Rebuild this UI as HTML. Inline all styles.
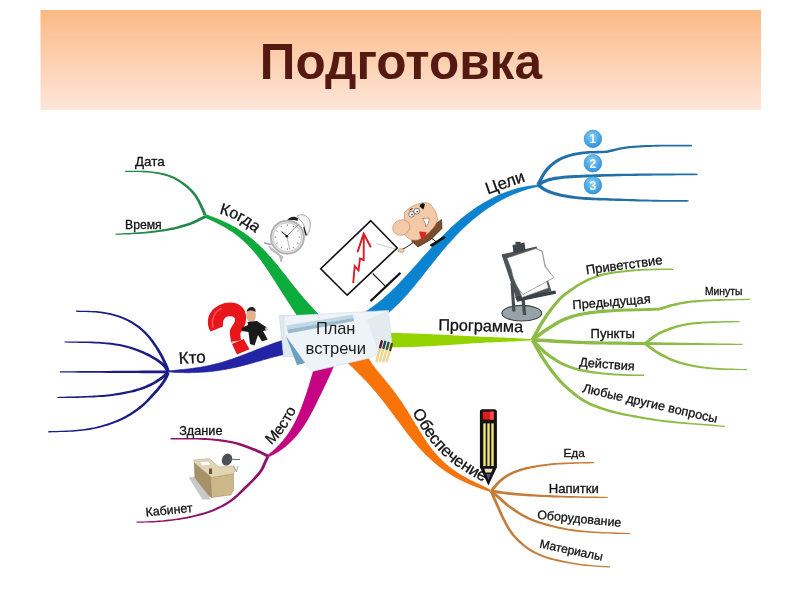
<!DOCTYPE html>
<html><head><meta charset="utf-8"><style>
html,body{margin:0;padding:0;background:#fff;width:800px;height:600px;overflow:hidden}
svg{display:block;will-change:transform}
text{font-family:"Liberation Sans",sans-serif}
.l{stroke:#111;stroke-width:0.3}
</style></head><body>
<svg width="800" height="600" viewBox="0 0 800 600">
<rect width="800" height="600" fill="#fff"/>
<defs>
<linearGradient id="hdr" x1="0" y1="0" x2="0" y2="1">
 <stop offset="0" stop-color="#fbb983"/><stop offset="0.3" stop-color="#fcc79f"/><stop offset="0.7" stop-color="#fdd9c0"/><stop offset="1" stop-color="#fde6da"/>
</linearGradient>
<radialGradient id="num" cx="0.45" cy="0.35" r="0.7">
 <stop offset="0" stop-color="#8fd0f5"/><stop offset="0.6" stop-color="#4aa8e6"/><stop offset="1" stop-color="#2f8fd6"/>
</radialGradient>
<linearGradient id="paper" x1="0" y1="0" x2="1" y2="1">
 <stop offset="0" stop-color="#eef4f8"/><stop offset="1" stop-color="#dbe7ef"/>
</linearGradient>
<radialGradient id="qm" cx="0.4" cy="0.35" r="0.7">
 <stop offset="0" stop-color="#ff4a3a"/><stop offset="1" stop-color="#d40f0f"/>
</radialGradient>
</defs>
<rect x="40.5" y="10" width="720.5" height="100" fill="url(#hdr)"/>
<text x="259.8" y="78.6" font-weight="bold" font-size="49.5" fill="#541a12">Подготовка</text>
<path d="M205.5,214.5 L208.0,215.4 L210.6,216.4 L213.2,217.4 L215.8,218.4 L218.3,219.4 L220.9,220.5 L223.5,221.7 L226.0,222.9 L228.6,224.1 L231.1,225.4 L233.5,226.7 L236.0,228.1 L238.4,229.6 L240.7,231.1 L243.1,232.6 L245.4,234.2 L247.6,235.8 L249.8,237.5 L252.0,239.3 L254.1,241.0 L256.2,242.9 L258.3,244.7 L260.3,246.6 L262.3,248.6 L264.2,250.5 L266.1,252.6 L268.0,254.6 L269.8,256.7 L271.7,258.7 L273.5,260.9 L275.3,263.0 L277.0,265.1 L278.8,267.3 L280.5,269.5 L282.2,271.7 L284.0,273.8 L285.7,276.0 L287.4,278.2 L289.1,280.4 L290.8,282.6 L292.5,284.8 L294.3,287.0 L296.0,289.1 L297.8,291.3 L299.5,293.4 L301.3,295.6 L303.1,297.7 L304.9,299.8 L306.8,301.9 L308.6,303.9 L310.5,306.0 L312.4,308.0 L314.3,310.1 L316.2,312.1 L318.2,314.1 L320.1,316.1 L322.1,318.0 L324.0,320.0 L326.0,322.0 L301.0,322.0 L299.8,319.9 L298.5,317.8 L297.2,315.7 L296.0,313.6 L294.6,311.6 L293.3,309.5 L292.0,307.4 L290.7,305.4 L289.3,303.3 L288.0,301.3 L286.7,299.2 L285.3,297.1 L284.0,295.1 L282.7,293.0 L281.4,290.9 L280.0,288.9 L278.7,286.8 L277.4,284.7 L276.1,282.6 L274.8,280.6 L273.4,278.5 L272.1,276.4 L270.8,274.4 L269.4,272.3 L268.1,270.3 L266.7,268.2 L265.3,266.2 L263.9,264.2 L262.5,262.2 L261.1,260.3 L259.6,258.3 L258.1,256.4 L256.6,254.5 L255.0,252.6 L253.4,250.7 L251.8,248.9 L250.2,247.1 L248.5,245.4 L246.7,243.6 L245.0,241.9 L243.2,240.3 L241.3,238.7 L239.4,237.1 L237.5,235.6 L235.6,234.1 L233.6,232.6 L231.5,231.2 L229.4,229.9 L227.3,228.6 L225.2,227.3 L223.1,226.0 L220.9,224.9 L218.7,223.7 L216.5,222.6 L214.3,221.5 L212.1,220.5 L209.9,219.4 L207.7,218.5 L205.5,217.5Z" fill="#0aad3c" stroke="#0b8f32" stroke-width="0.7"/>
<path d="M168.8,371.0 L170.9,370.7 L173.0,370.5 L175.1,370.3 L177.2,370.0 L179.4,369.8 L181.5,369.6 L183.6,369.4 L185.8,369.2 L187.9,368.9 L190.0,368.7 L192.2,368.4 L194.3,368.1 L196.4,367.8 L198.5,367.5 L200.6,367.2 L202.7,366.8 L204.8,366.4 L206.9,366.0 L209.0,365.5 L211.1,365.1 L213.2,364.6 L215.3,364.1 L217.3,363.5 L219.4,363.0 L221.5,362.4 L223.5,361.8 L225.6,361.2 L227.6,360.5 L229.6,359.8 L231.7,359.2 L233.7,358.5 L235.7,357.7 L237.7,357.0 L239.7,356.3 L241.7,355.5 L243.7,354.8 L245.7,354.0 L247.7,353.2 L249.7,352.4 L251.7,351.7 L253.7,350.9 L255.7,350.1 L257.7,349.3 L259.7,348.6 L261.7,347.8 L263.7,347.0 L265.7,346.3 L267.7,345.5 L269.7,344.8 L271.7,344.1 L273.7,343.3 L275.7,342.6 L277.8,341.9 L279.8,341.2 L281.8,340.6 L283.9,339.9 L285.9,339.3 L287.9,338.6 L290.0,338.0 L290.0,353.5 L287.9,353.8 L285.9,354.2 L283.8,354.6 L281.8,355.0 L279.7,355.5 L277.7,356.0 L275.7,356.5 L273.6,357.0 L271.6,357.6 L269.6,358.1 L267.6,358.7 L265.6,359.2 L263.5,359.8 L261.5,360.4 L259.5,361.0 L257.5,361.6 L255.5,362.1 L253.5,362.7 L251.5,363.3 L249.4,363.8 L247.4,364.4 L245.4,364.9 L243.4,365.4 L241.4,366.0 L239.3,366.5 L237.3,366.9 L235.3,367.4 L233.2,367.8 L231.2,368.3 L229.1,368.7 L227.1,369.1 L225.0,369.5 L223.0,369.8 L220.9,370.1 L218.8,370.5 L216.8,370.8 L214.7,371.0 L212.6,371.3 L210.6,371.5 L208.5,371.7 L206.4,371.9 L204.3,372.1 L202.2,372.2 L200.1,372.3 L198.0,372.4 L195.9,372.5 L193.8,372.6 L191.7,372.6 L189.6,372.7 L187.5,372.7 L185.4,372.7 L183.3,372.6 L181.2,372.6 L179.2,372.5 L177.1,372.5 L175.0,372.4 L172.9,372.3 L170.8,372.1 L168.8,372.0Z" fill="#2323a6" stroke="#1c1c8a" stroke-width="0.6"/>
<path d="M315.0,365.0 L314.6,366.7 L314.1,368.4 L313.7,370.1 L313.2,371.8 L312.7,373.5 L312.2,375.2 L311.7,376.9 L311.2,378.5 L310.7,380.2 L310.2,381.9 L309.7,383.6 L309.2,385.2 L308.7,386.9 L308.1,388.6 L307.6,390.3 L307.1,391.9 L306.5,393.6 L306.0,395.3 L305.4,396.9 L304.8,398.6 L304.2,400.3 L303.6,401.9 L303.0,403.6 L302.4,405.2 L301.8,406.9 L301.2,408.5 L300.5,410.1 L299.9,411.8 L299.2,413.4 L298.5,415.0 L297.8,416.6 L297.0,418.2 L296.3,419.8 L295.5,421.3 L294.7,422.9 L293.9,424.5 L293.0,426.0 L292.2,427.5 L291.3,429.0 L290.4,430.5 L289.4,432.0 L288.5,433.5 L287.5,434.9 L286.5,436.3 L285.4,437.7 L284.3,439.1 L283.2,440.5 L282.1,441.8 L280.9,443.1 L279.8,444.4 L278.5,445.7 L277.3,447.0 L276.0,448.2 L274.8,449.4 L273.4,450.6 L272.1,451.7 L270.8,452.8 L269.4,453.9 L268.0,455.0 L268.0,457.0 L269.8,456.2 L271.6,455.3 L273.4,454.4 L275.1,453.5 L276.9,452.4 L278.6,451.4 L280.3,450.2 L282.0,449.1 L283.6,447.9 L285.2,446.6 L286.8,445.3 L288.3,444.0 L289.8,442.6 L291.3,441.2 L292.7,439.7 L294.1,438.2 L295.5,436.7 L296.8,435.2 L298.1,433.6 L299.3,432.0 L300.5,430.4 L301.7,428.8 L302.9,427.1 L304.0,425.4 L305.1,423.7 L306.1,422.0 L307.2,420.3 L308.2,418.5 L309.2,416.8 L310.1,415.0 L311.1,413.2 L312.0,411.5 L313.0,409.7 L313.9,407.9 L314.8,406.1 L315.7,404.3 L316.6,402.5 L317.5,400.6 L318.3,398.8 L319.2,397.0 L320.1,395.2 L321.0,393.4 L321.9,391.5 L322.8,389.7 L323.6,387.9 L324.5,386.1 L325.4,384.2 L326.3,382.4 L327.1,380.6 L328.0,378.7 L328.9,376.9 L329.7,375.1 L330.5,373.2 L331.4,371.4 L332.1,369.5 L332.9,367.7 L333.6,365.8 L334.3,363.9 L335.0,362.0Z" fill="#c50383" stroke="#a3036c" stroke-width="0.6"/>
<path d="M362.0,314.0 L365.3,312.0 L368.4,309.9 L371.6,307.8 L374.6,305.5 L377.6,303.2 L380.5,300.9 L383.4,298.4 L386.3,295.9 L389.1,293.4 L391.8,290.8 L394.5,288.2 L397.2,285.5 L399.8,282.8 L402.4,280.1 L405.0,277.3 L407.6,274.5 L410.1,271.7 L412.6,268.9 L415.2,266.1 L417.7,263.3 L420.2,260.4 L422.7,257.6 L425.2,254.8 L427.8,252.0 L430.3,249.2 L432.8,246.4 L435.4,243.6 L438.0,240.8 L440.6,238.1 L443.3,235.4 L445.9,232.8 L448.7,230.1 L451.4,227.5 L454.2,225.0 L457.0,222.5 L459.9,220.0 L462.8,217.6 L465.7,215.3 L468.7,213.0 L471.8,210.8 L474.9,208.6 L478.0,206.5 L481.2,204.5 L484.5,202.5 L487.8,200.7 L491.1,198.9 L494.5,197.2 L497.9,195.6 L501.4,194.1 L504.9,192.7 L508.5,191.4 L512.1,190.2 L515.7,189.1 L519.4,188.1 L523.1,187.3 L526.8,186.6 L530.5,186.0 L534.3,185.5 L538.0,185.2 L538.0,186.4 L534.4,187.2 L530.9,188.1 L527.4,189.1 L523.9,190.2 L520.4,191.4 L517.0,192.7 L513.6,194.1 L510.2,195.6 L506.9,197.1 L503.6,198.8 L500.3,200.5 L497.1,202.3 L494.0,204.2 L490.8,206.2 L487.8,208.2 L484.8,210.3 L481.8,212.4 L478.9,214.7 L476.0,216.9 L473.2,219.3 L470.4,221.6 L467.7,224.1 L465.0,226.6 L462.3,229.1 L459.7,231.6 L457.2,234.3 L454.6,236.9 L452.2,239.6 L449.7,242.3 L447.3,245.0 L444.9,247.8 L442.5,250.6 L440.2,253.4 L437.9,256.3 L435.6,259.1 L433.3,262.0 L431.0,264.9 L428.7,267.7 L426.4,270.6 L424.2,273.5 L421.9,276.4 L419.6,279.3 L417.3,282.1 L415.0,285.0 L412.7,287.8 L410.3,290.6 L407.9,293.4 L405.5,296.1 L403.0,298.8 L400.5,301.4 L397.9,304.0 L395.3,306.5 L392.6,309.0 L389.9,311.4 L387.1,313.7 L384.2,315.9 L381.2,318.1 L378.1,320.1 L375.0,322.0Z" fill="#0a84d0" stroke="#0a6fb0" stroke-width="0.6"/>
<path d="M380.0,332.8 L382.6,332.8 L385.2,332.9 L387.8,332.9 L390.4,332.9 L392.9,333.0 L395.5,333.0 L398.1,333.1 L400.7,333.1 L403.3,333.2 L405.9,333.3 L408.5,333.3 L411.1,333.4 L413.6,333.5 L416.2,333.6 L418.8,333.7 L421.4,333.8 L424.0,333.9 L426.6,334.0 L429.2,334.1 L431.8,334.2 L434.3,334.4 L436.9,334.5 L439.5,334.6 L442.1,334.8 L444.7,334.9 L447.3,335.0 L449.9,335.1 L452.4,335.3 L455.0,335.4 L457.6,335.5 L460.2,335.7 L462.8,335.8 L465.4,335.9 L468.0,336.1 L470.5,336.2 L473.1,336.3 L475.7,336.4 L478.3,336.5 L480.9,336.7 L483.5,336.8 L486.1,336.9 L488.7,337.0 L491.2,337.1 L493.8,337.2 L496.4,337.3 L499.0,337.4 L501.6,337.5 L504.2,337.6 L506.8,337.8 L509.4,337.9 L511.9,338.0 L514.5,338.1 L517.1,338.2 L519.7,338.4 L522.3,338.5 L524.9,338.7 L527.4,338.9 L530.0,339.1 L532.6,339.3 L532.6,340.3 L530.0,340.5 L527.4,340.7 L524.9,340.8 L522.3,341.0 L519.7,341.1 L517.1,341.3 L514.5,341.4 L511.9,341.5 L509.3,341.6 L506.7,341.7 L504.2,341.8 L501.6,341.9 L499.0,342.0 L496.4,342.1 L493.8,342.2 L491.2,342.4 L488.6,342.5 L486.0,342.6 L483.5,342.8 L480.9,342.9 L478.3,343.0 L475.7,343.2 L473.1,343.3 L470.5,343.5 L467.9,343.7 L465.4,343.8 L462.8,344.0 L460.2,344.2 L457.6,344.4 L455.0,344.5 L452.4,344.7 L449.9,344.9 L447.3,345.1 L444.7,345.2 L442.1,345.4 L439.5,345.6 L436.9,345.7 L434.4,345.9 L431.8,346.0 L429.2,346.2 L426.6,346.3 L424.0,346.4 L421.4,346.6 L418.8,346.7 L416.2,346.8 L413.7,346.9 L411.1,347.0 L408.5,347.0 L405.9,347.1 L403.3,347.2 L400.7,347.2 L398.1,347.3 L395.5,347.3 L392.9,347.3 L390.4,347.4 L387.8,347.4 L385.2,347.4 L382.6,347.5 L380.0,347.5Z" fill="#94d200"/>
<path d="M345.0,360.0 L347.4,362.4 L349.9,364.7 L352.3,367.1 L354.7,369.4 L357.1,371.8 L359.5,374.2 L361.9,376.6 L364.3,379.1 L366.6,381.5 L368.9,384.0 L371.1,386.5 L373.4,389.1 L375.6,391.6 L377.8,394.2 L379.9,396.8 L382.0,399.5 L384.1,402.1 L386.2,404.8 L388.2,407.5 L390.3,410.2 L392.3,412.9 L394.3,415.6 L396.3,418.4 L398.4,421.1 L400.4,423.8 L402.4,426.6 L404.4,429.3 L406.5,432.0 L408.5,434.7 L410.6,437.3 L412.7,440.0 L414.9,442.6 L417.1,445.1 L419.3,447.7 L421.6,450.2 L423.9,452.6 L426.2,455.0 L428.7,457.3 L431.1,459.6 L433.7,461.9 L436.2,464.0 L438.9,466.2 L441.6,468.2 L444.3,470.2 L447.1,472.1 L450.0,473.9 L452.9,475.7 L455.9,477.4 L458.9,479.0 L462.0,480.5 L465.0,482.0 L468.2,483.4 L471.3,484.7 L474.5,486.0 L477.7,487.2 L480.8,488.4 L484.0,489.5 L487.1,490.5 L490.2,491.5 L490.2,490.0 L487.5,488.6 L484.8,487.2 L481.9,485.8 L479.0,484.4 L476.1,483.1 L473.2,481.6 L470.3,480.2 L467.4,478.7 L464.5,477.1 L461.7,475.5 L459.0,473.8 L456.3,472.1 L453.6,470.3 L451.1,468.4 L448.6,466.4 L446.1,464.4 L443.8,462.3 L441.5,460.1 L439.3,457.9 L437.1,455.6 L435.1,453.2 L433.0,450.8 L431.1,448.3 L429.2,445.8 L427.3,443.2 L425.5,440.6 L423.8,438.0 L422.1,435.3 L420.4,432.6 L418.7,429.9 L417.0,427.1 L415.3,424.4 L413.7,421.6 L412.0,418.9 L410.4,416.1 L408.7,413.4 L407.0,410.6 L405.3,407.9 L403.5,405.2 L401.8,402.6 L400.0,399.9 L398.1,397.3 L396.3,394.7 L394.4,392.2 L392.5,389.7 L390.5,387.1 L388.5,384.7 L386.5,382.2 L384.5,379.7 L382.5,377.3 L380.4,374.8 L378.4,372.4 L376.5,369.9 L374.5,367.4 L372.6,364.9 L370.8,362.3 L369.1,359.6 L367.5,356.9 L366.0,354.0Z" fill="#f87408" stroke="#e06a06" stroke-width="0.6"/>
<path d="M206.4,214.4 L206.2,213.9 L205.9,213.3 L205.6,212.5 L205.3,211.7 L204.9,210.8 L204.5,209.8 L204.0,208.8 L203.5,207.7 L203.0,206.7 L202.5,205.6 L202.0,204.6 L201.5,203.5 L200.9,202.4 L200.3,201.3 L199.7,200.1 L199.1,198.9 L198.4,197.7 L197.6,196.5 L196.9,195.3 L196.0,194.2 L195.2,193.1 L194.3,192.1 L193.4,191.0 L192.4,190.0 L191.4,189.0 L190.4,188.0 L189.3,187.0 L188.2,186.0 L187.0,185.0 L185.7,184.1 L184.4,183.1 L183.1,182.2 L181.7,181.2 L180.2,180.3 L178.7,179.3 L177.1,178.4 L175.5,177.6 L173.8,176.7 L172.1,176.0 L170.4,175.3 L168.5,174.7 L166.7,174.1 L164.8,173.6 L162.8,173.1 L160.8,172.7 L158.8,172.3 L156.7,172.0 L154.5,171.7 L152.3,171.4 L150.1,171.2 L147.7,171.0 L145.0,170.8 L142.1,170.7 L139.2,170.7 L136.3,170.7 L133.4,170.7 L130.8,170.7 L128.5,170.7 L126.5,170.7 L125.0,170.7 L125.0,171.8 L126.5,171.9 L128.5,171.9 L130.8,172.0 L133.4,172.0 L136.2,172.1 L139.1,172.1 L142.1,172.2 L144.9,172.4 L147.5,172.6 L149.9,172.8 L152.1,173.1 L154.3,173.4 L156.4,173.8 L158.4,174.1 L160.4,174.5 L162.4,175.0 L164.3,175.5 L166.1,176.0 L167.9,176.6 L169.6,177.2 L171.3,177.9 L173.0,178.6 L174.5,179.4 L176.1,180.3 L177.6,181.2 L179.0,182.1 L180.4,183.1 L181.7,184.0 L183.0,185.0 L184.3,185.9 L185.5,186.9 L186.6,187.8 L187.7,188.8 L188.7,189.7 L189.7,190.7 L190.6,191.7 L191.5,192.7 L192.3,193.7 L193.2,194.7 L194.0,195.8 L194.7,196.8 L195.4,197.9 L196.1,199.0 L196.7,200.2 L197.3,201.3 L197.9,202.5 L198.4,203.6 L199.0,204.7 L199.5,205.8 L200.0,206.9 L200.5,207.9 L200.9,208.9 L201.4,209.9 L201.8,210.9 L202.2,211.9 L202.5,212.8 L202.9,213.6 L203.1,214.4 L203.4,215.1 L203.6,215.6Z" fill="#23894a"/>
<path d="M204.8,215.2 L204.6,215.3 L204.4,215.4 L204.1,215.5 L203.8,215.7 L203.5,215.9 L203.1,216.1 L202.6,216.3 L202.1,216.6 L201.4,216.9 L200.6,217.3 L199.7,217.7 L198.7,218.2 L197.7,218.8 L196.5,219.4 L195.3,220.0 L194.0,220.6 L192.7,221.2 L191.3,221.8 L189.8,222.4 L188.3,223.0 L186.8,223.5 L185.1,224.0 L183.4,224.6 L181.7,225.1 L179.8,225.6 L177.9,226.2 L176.0,226.7 L174.0,227.2 L171.9,227.6 L169.8,228.1 L167.6,228.5 L165.3,228.9 L162.9,229.3 L160.5,229.7 L158.0,230.1 L155.5,230.5 L152.9,230.8 L150.3,231.1 L147.6,231.4 L144.9,231.7 L142.0,232.0 L138.9,232.3 L135.5,232.5 L132.1,232.7 L128.7,232.9 L125.4,233.1 L122.3,233.3 L119.6,233.5 L117.2,233.6 L115.5,233.7 L115.5,234.9 L117.3,234.8 L119.6,234.7 L122.4,234.6 L125.4,234.5 L128.7,234.4 L132.1,234.2 L135.6,234.1 L139.0,233.9 L142.2,233.7 L145.1,233.5 L147.8,233.2 L150.5,233.0 L153.1,232.7 L155.7,232.4 L158.3,232.1 L160.8,231.8 L163.3,231.4 L165.7,231.1 L168.0,230.7 L170.2,230.3 L172.4,229.9 L174.5,229.5 L176.6,229.0 L178.6,228.5 L180.5,228.0 L182.3,227.5 L184.1,227.0 L185.9,226.5 L187.6,226.0 L189.2,225.4 L190.8,224.9 L192.3,224.3 L193.8,223.7 L195.2,223.1 L196.5,222.5 L197.8,221.9 L198.9,221.3 L200.0,220.8 L201.0,220.3 L201.9,219.9 L202.6,219.6 L203.3,219.2 L203.9,219.0 L204.4,218.7 L204.8,218.5 L205.2,218.3 L205.5,218.2 L205.8,218.1 L206.0,217.9 L206.2,217.8Z" fill="#23894a"/>
<path d="M169.7,371.4 L169.6,371.1 L169.5,370.7 L169.4,370.2 L169.2,369.7 L169.0,369.0 L168.8,368.3 L168.5,367.5 L168.2,366.7 L167.8,365.7 L167.3,364.7 L166.8,363.6 L166.3,362.4 L165.7,361.1 L165.0,359.8 L164.3,358.3 L163.6,356.8 L162.8,355.3 L162.0,353.7 L161.1,352.2 L160.1,350.6 L159.1,349.0 L158.1,347.4 L157.0,345.7 L155.8,344.0 L154.6,342.3 L153.4,340.6 L152.1,338.9 L150.8,337.2 L149.5,335.7 L148.2,334.2 L146.8,332.8 L145.5,331.5 L144.1,330.2 L142.7,328.9 L141.3,327.7 L139.9,326.6 L138.4,325.5 L136.9,324.4 L135.4,323.4 L133.9,322.4 L132.3,321.5 L130.7,320.6 L129.1,319.8 L127.5,319.0 L125.8,318.2 L124.2,317.5 L122.5,316.8 L120.8,316.2 L119.0,315.6 L117.3,315.0 L115.5,314.5 L113.7,314.0 L111.9,313.6 L110.0,313.1 L108.2,312.8 L106.3,312.4 L104.4,312.1 L102.4,311.8 L100.4,311.6 L98.4,311.3 L96.2,311.1 L93.8,311.0 L91.3,310.9 L88.7,310.8 L86.1,310.7 L83.6,310.7 L81.3,310.7 L79.3,310.7 L77.5,310.6 L76.2,310.6 L76.2,311.8 L77.5,311.9 L79.2,311.9 L81.3,312.0 L83.6,312.0 L86.1,312.1 L88.6,312.2 L91.2,312.3 L93.7,312.5 L96.1,312.6 L98.2,312.9 L100.2,313.1 L102.2,313.4 L104.1,313.7 L106.0,314.1 L107.8,314.4 L109.7,314.8 L111.5,315.2 L113.2,315.7 L115.0,316.2 L116.7,316.8 L118.4,317.3 L120.1,318.0 L121.8,318.6 L123.4,319.3 L125.0,320.0 L126.6,320.7 L128.2,321.5 L129.7,322.4 L131.3,323.3 L132.7,324.2 L134.2,325.2 L135.7,326.2 L137.1,327.2 L138.5,328.3 L139.9,329.4 L141.2,330.6 L142.6,331.9 L143.9,333.1 L145.2,334.4 L146.4,335.8 L147.7,337.2 L148.9,338.8 L150.2,340.4 L151.4,342.0 L152.6,343.7 L153.7,345.4 L154.8,347.1 L155.9,348.8 L156.9,350.4 L157.9,352.0 L158.7,353.5 L159.6,355.0 L160.4,356.5 L161.1,358.0 L161.8,359.5 L162.5,360.9 L163.1,362.3 L163.7,363.6 L164.2,364.8 L164.7,365.9 L165.1,366.9 L165.4,367.7 L165.7,368.5 L166.0,369.3 L166.2,369.9 L166.3,370.5 L166.5,371.0 L166.6,371.5 L166.8,372.0 L166.9,372.4Z" fill="#1c1c84"/>
<path d="M169.6,371.1 L169.3,370.7 L169.0,370.3 L168.7,369.7 L168.3,369.0 L167.8,368.3 L167.3,367.5 L166.8,366.7 L166.1,365.8 L165.4,365.0 L164.7,364.3 L163.9,363.6 L163.1,362.9 L162.3,362.1 L161.4,361.4 L160.4,360.7 L159.4,360.0 L158.4,359.3 L157.3,358.6 L156.2,357.9 L155.0,357.2 L153.8,356.4 L152.5,355.7 L151.2,355.0 L149.9,354.3 L148.5,353.6 L147.0,352.9 L145.5,352.2 L144.0,351.5 L142.4,350.8 L140.7,350.2 L139.1,349.5 L137.4,348.9 L135.6,348.3 L133.8,347.7 L131.9,347.1 L130.0,346.5 L128.1,345.9 L126.1,345.4 L124.0,344.9 L121.9,344.5 L119.8,344.1 L117.7,343.7 L115.5,343.4 L113.3,343.1 L111.1,342.8 L108.7,342.6 L106.3,342.4 L103.8,342.2 L101.1,342.0 L98.4,341.8 L95.2,341.7 L91.7,341.6 L87.9,341.5 L83.9,341.5 L79.9,341.5 L76.1,341.4 L72.5,341.4 L69.3,341.4 L66.6,341.4 L64.5,341.4 L64.5,342.6 L66.5,342.6 L69.3,342.7 L72.5,342.8 L76.1,342.8 L79.9,342.9 L83.9,343.0 L87.8,343.1 L91.6,343.2 L95.2,343.4 L98.2,343.6 L101.0,343.8 L103.6,344.0 L106.2,344.2 L108.5,344.5 L110.8,344.7 L113.1,345.0 L115.2,345.4 L117.3,345.7 L119.4,346.1 L121.5,346.5 L123.5,347.0 L125.5,347.5 L127.5,348.1 L129.4,348.6 L131.2,349.2 L133.0,349.8 L134.8,350.5 L136.5,351.1 L138.2,351.8 L139.9,352.4 L141.4,353.1 L143.0,353.8 L144.5,354.5 L145.9,355.2 L147.3,355.9 L148.6,356.6 L150.0,357.3 L151.2,358.0 L152.4,358.7 L153.6,359.4 L154.7,360.1 L155.8,360.8 L156.8,361.5 L157.8,362.2 L158.8,362.9 L159.6,363.6 L160.5,364.3 L161.3,365.0 L162.0,365.7 L162.7,366.3 L163.3,367.0 L163.9,367.7 L164.4,368.4 L164.9,369.1 L165.3,369.8 L165.7,370.5 L166.1,371.2 L166.5,371.8 L166.8,372.3 L167.0,372.7Z" fill="#1c1c84"/>
<path d="M168.3,370.4 L165.5,370.4 L161.9,370.5 L157.7,370.5 L153.0,370.5 L147.9,370.6 L142.5,370.6 L136.9,370.7 L131.2,370.7 L125.5,370.8 L120.0,370.8 L114.2,370.8 L107.8,370.9 L100.9,371.0 L93.9,371.0 L86.9,371.1 L80.1,371.1 L73.8,371.2 L68.2,371.2 L63.4,371.3 L59.8,371.3 L59.8,372.5 L63.4,372.5 L68.2,372.6 L73.8,372.6 L80.1,372.7 L86.9,372.7 L93.9,372.8 L100.9,372.8 L107.8,372.9 L114.2,373.0 L120.0,373.0 L125.5,373.0 L131.2,373.1 L136.9,373.1 L142.5,373.2 L147.9,373.2 L153.0,373.3 L157.7,373.3 L161.9,373.3 L165.5,373.4 L168.3,373.4Z" fill="#1c1c84"/>
<path d="M167.3,371.4 L166.9,371.7 L166.4,372.1 L165.9,372.6 L165.3,373.2 L164.6,373.8 L163.8,374.4 L163.0,375.1 L162.2,375.7 L161.4,376.4 L160.5,377.0 L159.5,377.7 L158.6,378.4 L157.5,379.1 L156.5,379.8 L155.4,380.5 L154.2,381.3 L153.0,382.0 L151.8,382.7 L150.5,383.3 L149.1,384.0 L147.8,384.6 L146.3,385.3 L144.9,385.9 L143.4,386.5 L141.8,387.1 L140.2,387.7 L138.5,388.2 L136.8,388.8 L134.9,389.3 L133.0,389.8 L131.0,390.4 L128.8,390.9 L126.6,391.3 L124.3,391.8 L121.9,392.3 L119.5,392.7 L117.0,393.1 L114.6,393.5 L112.2,393.9 L109.9,394.2 L107.6,394.5 L105.3,394.7 L103.1,394.9 L100.9,395.1 L98.7,395.3 L96.4,395.4 L94.1,395.6 L91.7,395.7 L89.2,395.8 L86.7,396.0 L83.9,396.1 L80.7,396.2 L77.4,396.3 L74.0,396.5 L70.6,396.5 L67.3,396.6 L64.3,396.7 L61.6,396.8 L59.3,396.8 L57.5,396.9 L57.5,398.1 L59.3,398.1 L61.6,398.1 L64.3,398.0 L67.4,398.0 L70.7,398.0 L74.1,397.9 L77.5,397.9 L80.8,397.8 L83.9,397.7 L86.7,397.6 L89.3,397.5 L91.8,397.4 L94.2,397.4 L96.5,397.2 L98.8,397.1 L101.0,397.0 L103.3,396.9 L105.5,396.7 L107.8,396.5 L110.1,396.2 L112.5,395.9 L114.9,395.6 L117.4,395.2 L119.8,394.9 L122.3,394.4 L124.7,394.0 L127.0,393.6 L129.3,393.1 L131.5,392.6 L133.6,392.2 L135.6,391.7 L137.4,391.1 L139.3,390.6 L141.0,390.0 L142.7,389.5 L144.3,388.9 L145.8,388.3 L147.3,387.7 L148.8,387.0 L150.3,386.4 L151.7,385.7 L153.0,385.0 L154.4,384.3 L155.6,383.6 L156.8,382.9 L158.0,382.1 L159.1,381.4 L160.1,380.7 L161.2,380.0 L162.1,379.4 L163.1,378.7 L164.0,378.0 L164.9,377.4 L165.7,376.7 L166.5,376.0 L167.2,375.4 L167.8,374.9 L168.4,374.4 L168.9,374.0 L169.3,373.6Z" fill="#1c1c84"/>
<path d="M167.0,372.1 L166.7,372.7 L166.4,373.4 L166.1,374.1 L165.7,375.0 L165.3,375.9 L164.8,376.9 L164.3,377.9 L163.7,378.9 L163.1,379.9 L162.5,380.9 L161.8,381.9 L161.1,383.0 L160.3,384.1 L159.4,385.2 L158.5,386.3 L157.6,387.5 L156.6,388.7 L155.5,389.9 L154.4,391.1 L153.3,392.4 L152.1,393.7 L150.9,395.1 L149.6,396.5 L148.3,398.0 L147.0,399.4 L145.6,400.9 L144.1,402.3 L142.6,403.7 L141.1,405.0 L139.5,406.3 L137.9,407.6 L136.2,408.9 L134.5,410.1 L132.8,411.3 L131.0,412.5 L129.1,413.7 L127.2,414.8 L125.3,415.9 L123.3,417.0 L121.2,418.0 L119.1,419.0 L116.9,420.0 L114.7,420.9 L112.3,421.8 L110.0,422.7 L107.6,423.5 L105.2,424.3 L102.8,425.0 L100.4,425.7 L98.1,426.3 L95.8,426.9 L93.5,427.4 L91.3,427.8 L89.0,428.2 L86.7,428.6 L84.5,428.9 L82.2,429.2 L79.8,429.4 L77.4,429.7 L74.9,429.9 L72.3,430.2 L69.4,430.4 L66.3,430.5 L63.2,430.7 L60.1,430.8 L57.1,430.9 L54.4,431.0 L51.9,431.1 L49.8,431.1 L48.2,431.2 L48.2,432.4 L49.8,432.4 L51.9,432.3 L54.4,432.3 L57.2,432.2 L60.2,432.1 L63.3,432.1 L66.4,432.0 L69.5,431.8 L72.4,431.7 L75.1,431.5 L77.5,431.3 L80.0,431.0 L82.3,430.8 L84.7,430.5 L87.0,430.2 L89.3,429.9 L91.6,429.5 L93.9,429.1 L96.2,428.6 L98.5,428.1 L100.9,427.5 L103.3,426.8 L105.7,426.1 L108.2,425.4 L110.6,424.6 L113.0,423.7 L115.4,422.8 L117.7,421.9 L120.0,421.0 L122.2,420.0 L124.3,419.0 L126.3,417.9 L128.3,416.8 L130.3,415.7 L132.2,414.5 L134.1,413.3 L135.9,412.1 L137.7,410.8 L139.4,409.5 L141.1,408.3 L142.7,406.9 L144.3,405.5 L145.9,404.1 L147.4,402.6 L148.8,401.2 L150.2,399.7 L151.5,398.3 L152.8,396.9 L154.1,395.5 L155.3,394.2 L156.5,392.9 L157.6,391.7 L158.7,390.5 L159.7,389.2 L160.7,388.1 L161.6,386.9 L162.5,385.8 L163.3,384.7 L164.1,383.6 L164.9,382.5 L165.6,381.4 L166.3,380.3 L166.9,379.2 L167.4,378.2 L167.9,377.2 L168.4,376.2 L168.8,375.3 L169.1,374.6 L169.4,374.0 L169.6,373.5Z" fill="#1c1c84"/>
<path d="M268.5,454.7 L268.0,454.4 L267.4,454.1 L266.7,453.8 L265.8,453.4 L265.0,452.9 L264.0,452.5 L263.0,452.0 L262.0,451.5 L261.0,451.1 L260.0,450.6 L259.0,450.2 L258.0,449.7 L256.9,449.3 L255.8,448.8 L254.7,448.3 L253.5,447.9 L252.4,447.4 L251.1,446.9 L249.9,446.4 L248.5,446.0 L247.2,445.5 L245.8,445.0 L244.4,444.5 L242.9,444.0 L241.4,443.6 L239.9,443.1 L238.3,442.6 L236.7,442.2 L235.1,441.7 L233.4,441.4 L231.6,441.0 L229.8,440.7 L228.0,440.4 L226.1,440.1 L224.1,439.8 L222.2,439.5 L220.3,439.3 L218.3,439.1 L216.4,438.9 L214.5,438.7 L212.6,438.6 L210.8,438.4 L209.0,438.3 L207.3,438.2 L205.5,438.1 L203.6,438.1 L201.7,438.0 L199.8,438.0 L197.8,438.0 L195.6,437.9 L193.2,437.9 L190.6,437.9 L187.7,437.9 L184.7,438.0 L181.8,438.0 L178.9,438.0 L176.2,438.1 L173.8,438.1 L171.8,438.1 L170.3,438.2 L170.3,439.3 L171.8,439.4 L173.8,439.4 L176.2,439.4 L178.9,439.4 L181.8,439.4 L184.7,439.4 L187.7,439.4 L190.5,439.5 L193.2,439.5 L195.6,439.6 L197.7,439.6 L199.8,439.7 L201.7,439.8 L203.6,439.9 L205.4,440.0 L207.1,440.1 L208.9,440.2 L210.7,440.3 L212.5,440.5 L214.3,440.7 L216.2,440.9 L218.1,441.1 L220.0,441.4 L221.9,441.7 L223.8,441.9 L225.7,442.2 L227.6,442.6 L229.4,442.9 L231.2,443.3 L232.8,443.6 L234.5,444.0 L236.1,444.5 L237.6,444.9 L239.2,445.4 L240.7,445.9 L242.1,446.4 L243.6,446.9 L245.0,447.4 L246.3,447.9 L247.7,448.4 L248.9,448.9 L250.2,449.4 L251.4,449.9 L252.5,450.4 L253.6,450.8 L254.7,451.3 L255.8,451.8 L256.8,452.3 L257.8,452.7 L258.8,453.2 L259.8,453.6 L260.8,454.1 L261.8,454.6 L262.7,455.1 L263.7,455.6 L264.5,456.0 L265.3,456.4 L266.0,456.8 L266.6,457.1 L267.1,457.3Z" fill="#8e1469"/>
<path d="M266.4,456.0 L266.3,456.3 L266.0,456.8 L265.8,457.4 L265.5,458.0 L265.2,458.7 L264.8,459.5 L264.5,460.2 L264.1,461.0 L263.8,461.7 L263.5,462.4 L263.2,463.1 L262.9,463.8 L262.6,464.5 L262.3,465.2 L262.0,465.8 L261.8,466.5 L261.4,467.2 L261.1,467.9 L260.7,468.5 L260.3,469.2 L259.8,469.9 L259.3,470.7 L258.8,471.4 L258.2,472.2 L257.6,472.9 L257.0,473.7 L256.3,474.5 L255.6,475.3 L254.8,476.2 L254.0,477.1 L253.2,478.0 L252.3,478.9 L251.3,479.9 L250.3,480.9 L249.3,482.0 L248.3,483.0 L247.2,484.0 L246.2,485.1 L245.1,486.1 L244.1,487.1 L243.1,488.1 L242.1,489.1 L241.1,490.1 L240.1,491.1 L239.1,492.1 L238.2,493.0 L237.2,494.0 L236.2,494.9 L235.2,495.7 L234.2,496.6 L233.3,497.4 L232.3,498.1 L231.4,498.9 L230.5,499.5 L229.6,500.2 L228.7,500.9 L227.7,501.5 L226.7,502.2 L225.6,502.8 L224.4,503.5 L223.2,504.2 L221.9,504.9 L220.5,505.7 L219.1,506.4 L217.7,507.1 L216.2,507.8 L214.6,508.5 L213.0,509.2 L211.4,509.9 L209.7,510.5 L207.9,511.2 L206.0,511.8 L204.0,512.4 L202.0,513.0 L199.9,513.6 L197.9,514.1 L195.8,514.7 L193.7,515.2 L191.7,515.7 L189.8,516.1 L187.9,516.5 L186.1,516.9 L184.3,517.3 L182.5,517.6 L180.7,517.9 L178.9,518.2 L177.1,518.5 L175.4,518.7 L173.6,519.0 L171.9,519.2 L170.2,519.4 L168.5,519.6 L166.8,519.8 L165.1,520.0 L163.5,520.2 L161.8,520.4 L160.1,520.5 L158.4,520.6 L156.7,520.8 L155.0,520.9 L153.1,521.0 L151.1,521.1 L149.0,521.2 L146.8,521.3 L144.7,521.4 L142.7,521.4 L140.8,521.5 L139.1,521.5 L137.7,521.6 L136.6,521.6 L136.6,522.8 L137.7,522.8 L139.1,522.7 L140.8,522.7 L142.7,522.7 L144.8,522.6 L146.9,522.6 L149.0,522.5 L151.1,522.5 L153.2,522.4 L155.0,522.3 L156.8,522.2 L158.5,522.1 L160.2,522.0 L161.9,521.8 L163.6,521.7 L165.3,521.5 L167.0,521.4 L168.6,521.2 L170.4,521.0 L172.1,520.8 L173.9,520.6 L175.6,520.3 L177.4,520.1 L179.2,519.9 L180.9,519.6 L182.8,519.3 L184.6,519.0 L186.4,518.7 L188.3,518.3 L190.2,517.9 L192.1,517.5 L194.2,517.0 L196.2,516.5 L198.3,516.0 L200.4,515.4 L202.5,514.9 L204.6,514.3 L206.6,513.7 L208.5,513.1 L210.3,512.5 L212.1,511.8 L213.8,511.2 L215.4,510.5 L217.0,509.8 L218.6,509.1 L220.1,508.3 L221.5,507.6 L222.9,506.9 L224.3,506.2 L225.6,505.5 L226.8,504.8 L227.9,504.1 L229.0,503.4 L230.0,502.8 L231.0,502.1 L231.9,501.4 L232.9,500.7 L233.8,500.0 L234.8,499.2 L235.8,498.4 L236.8,497.6 L237.8,496.7 L238.8,495.7 L239.8,494.8 L240.9,493.8 L241.9,492.8 L242.9,491.9 L243.9,490.9 L244.9,489.9 L245.9,488.9 L246.9,487.9 L248.0,486.9 L249.0,485.9 L250.1,484.9 L251.1,483.8 L252.2,482.8 L253.2,481.8 L254.2,480.8 L255.1,479.8 L256.0,478.9 L256.8,478.0 L257.6,477.2 L258.3,476.3 L259.1,475.5 L259.7,474.7 L260.4,473.9 L261.0,473.1 L261.6,472.3 L262.2,471.6 L262.7,470.8 L263.2,470.0 L263.6,469.2 L264.0,468.4 L264.4,467.7 L264.7,467.0 L265.0,466.3 L265.3,465.6 L265.5,464.9 L265.8,464.3 L266.1,463.6 L266.5,462.9 L266.8,462.2 L267.2,461.5 L267.5,460.7 L267.8,460.0 L268.2,459.3 L268.5,458.7 L268.8,458.1 L269.0,457.6 L269.2,457.2Z" fill="#8e1469"/>
<path d="M539.4,185.8 L539.9,184.9 L540.4,183.8 L541.1,182.5 L541.8,181.0 L542.6,179.4 L543.4,177.8 L544.3,176.2 L545.2,174.6 L546.1,173.2 L547.0,172.0 L547.9,170.9 L548.9,169.7 L549.9,168.7 L551.0,167.6 L552.1,166.6 L553.2,165.6 L554.3,164.7 L555.5,163.8 L556.6,163.0 L557.8,162.2 L559.0,161.5 L560.2,160.8 L561.5,160.1 L562.7,159.5 L564.0,159.0 L565.3,158.5 L566.7,158.0 L568.1,157.5 L569.5,157.1 L570.9,156.6 L572.3,156.2 L573.8,155.9 L575.3,155.5 L576.8,155.2 L578.3,155.0 L579.9,154.7 L581.5,154.5 L583.1,154.3 L584.7,154.1 L586.4,153.9 L588.1,153.7 L589.9,153.6 L591.9,153.5 L593.9,153.5 L595.8,153.4 L597.8,153.4 L599.6,153.3 L601.4,153.3 L603.0,153.2 L604.3,153.1 L605.5,153.1 L606.3,153.0 L607.1,152.9 L607.7,152.8 L608.2,152.7 L608.6,152.6 L609.1,152.4 L609.7,152.3 L610.4,152.1 L611.3,151.9 L612.3,151.7 L613.5,151.4 L614.7,151.1 L616.0,150.8 L617.3,150.4 L618.7,150.1 L620.2,149.8 L621.6,149.5 L623.1,149.2 L624.7,148.9 L626.2,148.7 L627.9,148.5 L629.5,148.3 L631.3,148.1 L633.0,148.0 L634.8,147.8 L636.7,147.7 L638.6,147.5 L640.6,147.4 L642.6,147.3 L644.6,147.2 L646.7,147.1 L648.8,147.0 L651.0,146.9 L653.2,146.8 L655.5,146.7 L657.8,146.7 L660.2,146.6 L662.6,146.6 L665.0,146.5 L667.6,146.5 L670.5,146.4 L673.6,146.4 L676.8,146.4 L679.9,146.4 L682.9,146.4 L685.7,146.4 L688.3,146.4 L690.4,146.4 L692.0,146.3 L692.0,144.9 L690.4,144.8 L688.3,144.8 L685.7,144.8 L682.9,144.8 L679.9,144.7 L676.8,144.7 L673.6,144.7 L670.5,144.7 L667.6,144.7 L665.0,144.7 L662.5,144.7 L660.1,144.7 L657.8,144.8 L655.4,144.8 L653.2,144.9 L650.9,144.9 L648.7,145.0 L646.6,145.0 L644.5,145.1 L642.4,145.2 L640.4,145.3 L638.5,145.4 L636.6,145.5 L634.7,145.7 L632.8,145.8 L631.1,145.9 L629.3,146.1 L627.6,146.3 L626.0,146.5 L624.3,146.7 L622.7,146.9 L621.2,147.2 L619.7,147.5 L618.2,147.8 L616.8,148.2 L615.4,148.5 L614.1,148.8 L612.9,149.1 L611.8,149.3 L610.7,149.6 L609.8,149.8 L609.1,149.9 L608.5,150.1 L608.1,150.2 L607.6,150.3 L607.2,150.4 L606.7,150.4 L606.1,150.5 L605.2,150.6 L604.2,150.7 L602.8,150.7 L601.3,150.8 L599.6,150.8 L597.7,150.8 L595.8,150.8 L593.8,150.9 L591.8,150.9 L589.8,151.0 L587.9,151.1 L586.1,151.2 L584.4,151.4 L582.8,151.6 L581.1,151.7 L579.5,152.0 L577.9,152.2 L576.3,152.5 L574.7,152.8 L573.2,153.1 L571.6,153.5 L570.1,153.9 L568.6,154.3 L567.2,154.7 L565.7,155.2 L564.3,155.7 L562.9,156.2 L561.5,156.8 L560.2,157.4 L558.8,158.1 L557.5,158.8 L556.2,159.6 L554.9,160.4 L553.6,161.3 L552.4,162.3 L551.2,163.2 L550.0,164.3 L548.8,165.3 L547.7,166.4 L546.6,167.6 L545.5,168.8 L544.5,170.0 L543.5,171.4 L542.5,172.9 L541.5,174.5 L540.5,176.2 L539.6,177.9 L538.8,179.5 L538.1,181.0 L537.4,182.3 L536.8,183.4 L536.4,184.2Z" fill="#2270a8"/>
<path d="M538.7,186.5 L539.3,186.2 L540.0,185.7 L540.9,185.2 L541.8,184.7 L542.8,184.1 L543.8,183.6 L545.0,183.0 L546.1,182.4 L547.3,182.0 L548.5,181.6 L549.7,181.2 L551.1,180.9 L552.4,180.6 L553.9,180.3 L555.4,180.0 L556.9,179.7 L558.6,179.5 L560.3,179.3 L562.0,179.0 L563.9,178.8 L565.8,178.6 L567.8,178.5 L569.8,178.3 L571.8,178.2 L574.0,178.0 L576.2,177.9 L578.5,177.8 L581.0,177.7 L583.6,177.5 L586.3,177.4 L589.2,177.3 L592.3,177.1 L595.6,177.0 L599.0,176.9 L602.5,176.8 L606.0,176.6 L609.6,176.5 L613.1,176.4 L616.6,176.3 L620.0,176.2 L623.4,176.1 L626.6,176.0 L629.8,176.0 L633.0,175.9 L636.3,175.9 L639.5,175.8 L642.9,175.8 L646.4,175.7 L650.0,175.7 L653.8,175.6 L657.9,175.6 L662.6,175.5 L667.5,175.4 L672.7,175.4 L677.8,175.3 L682.7,175.3 L687.4,175.2 L691.5,175.2 L694.9,175.2 L697.6,175.1 L697.6,173.7 L694.9,173.6 L691.5,173.6 L687.3,173.6 L682.7,173.6 L677.8,173.6 L672.7,173.6 L667.5,173.6 L662.6,173.6 L657.9,173.6 L653.7,173.6 L650.0,173.6 L646.3,173.6 L642.9,173.6 L639.5,173.6 L636.2,173.6 L633.0,173.7 L629.8,173.7 L626.6,173.7 L623.3,173.7 L620.0,173.8 L616.5,173.8 L613.0,173.9 L609.5,174.0 L605.9,174.1 L602.4,174.1 L598.9,174.2 L595.5,174.3 L592.2,174.4 L589.1,174.5 L586.2,174.6 L583.5,174.7 L580.9,174.8 L578.4,174.9 L576.0,175.0 L573.8,175.1 L571.6,175.2 L569.5,175.3 L567.5,175.4 L565.5,175.6 L563.6,175.8 L561.7,176.0 L559.9,176.2 L558.1,176.4 L556.5,176.6 L554.8,176.8 L553.3,177.1 L551.8,177.4 L550.3,177.7 L548.9,178.1 L547.5,178.4 L546.2,178.9 L544.8,179.4 L543.5,180.0 L542.3,180.6 L541.2,181.2 L540.1,181.8 L539.2,182.3 L538.3,182.8 L537.6,183.2 L537.1,183.5Z" fill="#2270a8"/>
<path d="M537.0,186.4 L537.5,186.8 L538.2,187.3 L539.0,187.8 L540.0,188.5 L541.0,189.2 L542.2,190.0 L543.4,190.7 L544.7,191.5 L546.0,192.1 L547.4,192.7 L548.7,193.3 L550.1,193.8 L551.6,194.3 L553.1,194.8 L554.7,195.2 L556.3,195.7 L558.0,196.1 L559.7,196.5 L561.6,196.9 L563.5,197.2 L565.4,197.6 L567.4,197.9 L569.4,198.2 L571.5,198.5 L573.7,198.8 L576.0,199.0 L578.3,199.3 L580.8,199.5 L583.4,199.7 L586.2,199.9 L589.1,200.1 L592.2,200.2 L595.5,200.3 L598.9,200.4 L602.4,200.5 L605.9,200.6 L609.5,200.7 L613.0,200.8 L616.5,200.9 L620.0,201.0 L623.3,201.1 L626.7,201.1 L630.1,201.2 L633.4,201.3 L636.8,201.4 L640.1,201.5 L643.5,201.5 L646.9,201.6 L650.3,201.6 L653.7,201.7 L657.3,201.7 L661.2,201.7 L665.2,201.7 L669.3,201.7 L673.3,201.7 L677.1,201.7 L680.7,201.7 L683.8,201.7 L686.5,201.7 L688.6,201.6 L688.6,200.2 L686.5,200.1 L683.8,200.1 L680.7,200.1 L677.1,200.0 L673.3,200.0 L669.3,200.0 L665.2,199.9 L661.2,199.9 L657.4,199.8 L653.8,199.7 L650.3,199.7 L647.0,199.6 L643.6,199.5 L640.2,199.4 L636.8,199.2 L633.5,199.1 L630.1,199.0 L626.8,198.9 L623.4,198.8 L620.0,198.6 L616.6,198.5 L613.1,198.4 L609.6,198.2 L606.0,198.1 L602.5,198.0 L599.0,197.8 L595.6,197.7 L592.3,197.5 L589.3,197.3 L586.3,197.1 L583.6,196.9 L581.0,196.7 L578.6,196.4 L576.3,196.2 L574.1,195.9 L571.9,195.6 L569.9,195.3 L567.9,195.0 L565.9,194.6 L564.0,194.3 L562.2,193.9 L560.4,193.5 L558.7,193.1 L557.1,192.6 L555.5,192.2 L554.0,191.7 L552.6,191.3 L551.2,190.8 L549.9,190.3 L548.6,189.8 L547.4,189.2 L546.2,188.6 L545.1,187.9 L544.0,187.2 L542.9,186.5 L541.9,185.8 L541.0,185.1 L540.2,184.5 L539.4,184.0 L538.8,183.6Z" fill="#2270a8"/>
<path d="M534.1,340.7 L534.4,340.1 L534.8,339.3 L535.3,338.4 L535.9,337.3 L536.4,336.1 L537.1,334.9 L537.7,333.7 L538.3,332.5 L538.9,331.4 L539.5,330.3 L540.1,329.3 L540.6,328.3 L541.2,327.3 L541.8,326.3 L542.4,325.3 L542.9,324.3 L543.5,323.4 L544.1,322.4 L544.7,321.4 L545.4,320.4 L546.0,319.4 L546.7,318.4 L547.4,317.4 L548.1,316.3 L548.7,315.3 L549.5,314.3 L550.2,313.3 L550.9,312.3 L551.6,311.4 L552.2,310.4 L552.9,309.5 L553.6,308.6 L554.3,307.7 L555.0,306.9 L555.7,306.0 L556.4,305.2 L557.0,304.3 L557.7,303.5 L558.4,302.8 L559.1,302.0 L559.8,301.3 L560.4,300.6 L561.0,299.9 L561.5,299.3 L562.1,298.7 L562.7,298.1 L563.4,297.5 L564.1,296.9 L564.9,296.2 L565.9,295.4 L567.0,294.6 L568.2,293.7 L569.4,292.7 L570.8,291.7 L572.2,290.7 L573.7,289.7 L575.2,288.7 L576.6,287.7 L578.0,286.8 L579.4,285.9 L580.8,285.1 L582.1,284.4 L583.5,283.6 L584.8,282.9 L586.2,282.2 L587.5,281.5 L588.9,280.9 L590.2,280.3 L591.6,279.7 L592.9,279.1 L594.3,278.6 L595.6,278.1 L596.8,277.6 L598.0,277.2 L599.3,276.8 L600.6,276.4 L601.9,276.0 L603.3,275.6 L604.8,275.2 L606.5,274.9 L608.2,274.5 L610.1,274.2 L612.1,273.9 L614.2,273.6 L616.3,273.3 L618.5,273.0 L620.7,272.7 L622.9,272.4 L625.0,272.2 L627.1,272.0 L629.1,271.7 L631.1,271.5 L633.1,271.4 L635.0,271.2 L637.0,271.0 L639.0,270.9 L641.0,270.8 L643.1,270.6 L645.3,270.5 L647.5,270.4 L650.0,270.3 L652.8,270.3 L655.7,270.2 L658.8,270.1 L661.8,270.1 L664.7,270.1 L667.4,270.0 L669.9,270.0 L671.9,270.0 L673.5,269.9 L673.5,268.7 L671.9,268.7 L669.9,268.6 L667.4,268.6 L664.7,268.6 L661.8,268.6 L658.7,268.6 L655.7,268.6 L652.7,268.7 L650.0,268.7 L647.5,268.8 L645.2,268.8 L643.0,268.9 L640.9,269.0 L638.9,269.1 L636.9,269.2 L634.9,269.4 L632.9,269.5 L630.9,269.7 L628.9,269.9 L626.9,270.0 L624.8,270.2 L622.6,270.5 L620.5,270.7 L618.3,270.9 L616.1,271.2 L613.9,271.5 L611.8,271.8 L609.8,272.1 L607.8,272.4 L606.0,272.7 L604.3,273.1 L602.8,273.4 L601.3,273.8 L599.9,274.2 L598.6,274.5 L597.3,275.0 L596.0,275.4 L594.7,275.9 L593.4,276.4 L592.1,276.9 L590.7,277.4 L589.3,278.0 L587.9,278.6 L586.5,279.3 L585.1,279.9 L583.7,280.6 L582.3,281.4 L580.9,282.1 L579.5,282.9 L578.1,283.7 L576.7,284.5 L575.2,285.5 L573.7,286.4 L572.2,287.4 L570.7,288.4 L569.2,289.5 L567.8,290.4 L566.5,291.4 L565.2,292.3 L564.1,293.2 L563.1,294.0 L562.2,294.7 L561.4,295.4 L560.7,296.0 L560.1,296.7 L559.4,297.3 L558.8,297.9 L558.2,298.6 L557.6,299.3 L556.9,300.0 L556.2,300.8 L555.5,301.6 L554.8,302.4 L554.0,303.2 L553.3,304.1 L552.6,304.9 L551.9,305.8 L551.2,306.7 L550.5,307.6 L549.8,308.6 L549.0,309.5 L548.3,310.5 L547.6,311.5 L546.9,312.5 L546.1,313.5 L545.4,314.5 L544.7,315.5 L544.0,316.6 L543.3,317.6 L542.6,318.6 L542.0,319.6 L541.3,320.6 L540.7,321.6 L540.1,322.6 L539.5,323.6 L538.9,324.6 L538.3,325.6 L537.7,326.6 L537.1,327.6 L536.5,328.7 L535.9,329.7 L535.3,330.9 L534.6,332.1 L533.9,333.3 L533.3,334.5 L532.7,335.7 L532.1,336.7 L531.7,337.7 L531.2,338.5 L530.9,339.1Z" fill="#8cbc45"/>
<path d="M533.6,341.3 L534.4,340.7 L535.4,340.0 L536.5,339.1 L537.8,338.1 L539.2,337.0 L540.7,335.9 L542.2,334.8 L543.8,333.6 L545.4,332.5 L547.0,331.5 L548.6,330.4 L550.2,329.3 L551.9,328.2 L553.7,327.1 L555.4,326.0 L557.2,324.9 L559.1,323.8 L560.9,322.8 L562.8,321.9 L564.7,321.1 L566.6,320.3 L568.4,319.5 L570.3,318.9 L572.3,318.2 L574.2,317.6 L576.2,317.1 L578.3,316.5 L580.5,316.0 L582.8,315.6 L585.3,315.1 L587.9,314.7 L590.6,314.3 L593.5,313.9 L596.5,313.6 L599.6,313.3 L602.7,313.0 L605.8,312.7 L609.0,312.5 L612.1,312.2 L615.1,312.0 L618.1,311.8 L621.3,311.7 L624.5,311.6 L627.8,311.5 L631.0,311.4 L634.1,311.3 L637.1,311.2 L640.0,311.2 L642.6,311.1 L645.0,311.0 L647.2,311.0 L649.3,310.9 L651.1,310.8 L652.9,310.7 L654.4,310.7 L655.9,310.6 L657.1,310.5 L658.3,310.5 L659.2,310.4 L660.1,310.4 L659.9,307.6 L659.1,307.6 L658.1,307.7 L657.0,307.7 L655.7,307.8 L654.3,307.8 L652.7,307.9 L651.0,308.0 L649.1,308.0 L647.1,308.1 L645.0,308.2 L642.6,308.2 L639.9,308.3 L637.1,308.3 L634.1,308.4 L630.9,308.4 L627.7,308.5 L624.4,308.6 L621.2,308.7 L618.0,308.8 L614.9,309.0 L611.9,309.2 L608.7,309.4 L605.6,309.6 L602.4,309.8 L599.3,310.1 L596.2,310.4 L593.2,310.7 L590.2,311.1 L587.4,311.5 L584.7,311.9 L582.2,312.4 L579.8,312.8 L577.6,313.3 L575.4,313.9 L573.3,314.4 L571.3,315.0 L569.3,315.7 L567.3,316.4 L565.3,317.1 L563.3,317.9 L561.3,318.8 L559.4,319.8 L557.4,320.8 L555.5,321.9 L553.6,323.0 L551.8,324.2 L550.0,325.3 L548.3,326.4 L546.6,327.5 L545.0,328.5 L543.4,329.6 L541.8,330.7 L540.2,331.9 L538.6,333.1 L537.1,334.2 L535.6,335.3 L534.3,336.3 L533.2,337.1 L532.2,337.9 L531.4,338.5Z" fill="#8cbc45"/>
<path d="M660.4,310.3 L661.3,310.1 L662.4,309.7 L663.7,309.2 L665.2,308.7 L666.8,308.2 L668.5,307.7 L670.2,307.1 L671.9,306.6 L673.6,306.1 L675.3,305.7 L676.9,305.4 L678.5,305.0 L680.1,304.6 L681.8,304.3 L683.5,304.0 L685.2,303.7 L687.0,303.4 L688.9,303.1 L690.9,302.8 L693.1,302.6 L695.4,302.4 L697.9,302.1 L700.4,301.9 L703.1,301.8 L705.8,301.6 L708.6,301.4 L711.4,301.3 L714.3,301.1 L717.2,301.0 L720.0,300.9 L723.0,300.7 L726.3,300.6 L729.7,300.5 L733.2,300.4 L736.7,300.3 L740.0,300.2 L743.1,300.2 L745.9,300.1 L748.2,300.0 L750.0,300.0 L750.0,298.8 L748.2,298.8 L745.9,298.8 L743.1,298.8 L740.0,298.9 L736.7,298.9 L733.2,298.9 L729.7,299.0 L726.3,299.0 L723.0,299.1 L720.0,299.1 L717.1,299.2 L714.2,299.3 L711.4,299.4 L708.5,299.5 L705.7,299.6 L702.9,299.7 L700.3,299.9 L697.7,300.0 L695.2,300.2 L692.9,300.4 L690.7,300.6 L688.6,300.9 L686.7,301.1 L684.8,301.4 L683.0,301.6 L681.3,301.9 L679.7,302.2 L678.0,302.6 L676.4,302.9 L674.7,303.3 L673.0,303.7 L671.2,304.1 L669.4,304.6 L667.7,305.1 L666.0,305.7 L664.4,306.2 L662.9,306.6 L661.6,307.1 L660.5,307.4 L659.6,307.7Z" fill="#8cbc45"/>
<path d="M532.4,341.7 L535.5,341.9 L539.4,342.1 L544.1,342.3 L549.3,342.6 L554.9,342.9 L560.8,343.2 L567.0,343.5 L573.1,343.8 L579.1,344.1 L584.9,344.3 L590.9,344.4 L597.4,344.5 L604.3,344.6 L611.3,344.7 L618.3,344.8 L624.9,344.8 L631.2,344.9 L636.7,344.9 L641.4,345.0 L645.0,345.0 L645.0,342.0 L641.4,341.9 L636.7,341.9 L631.2,341.8 L625.0,341.7 L618.3,341.6 L611.4,341.5 L604.4,341.4 L597.5,341.3 L591.0,341.1 L585.1,340.9 L579.3,340.7 L573.3,340.4 L567.1,340.1 L561.0,339.8 L555.1,339.5 L549.5,339.1 L544.3,338.8 L539.6,338.5 L535.7,338.3 L532.6,338.1Z" fill="#8cbc45"/>
<path d="M645.9,344.7 L646.8,344.0 L647.9,343.2 L649.1,342.2 L650.5,341.1 L652.0,339.9 L653.7,338.6 L655.4,337.4 L657.1,336.2 L658.9,335.1 L660.6,334.2 L662.4,333.3 L664.3,332.4 L666.3,331.6 L668.3,330.7 L670.4,329.9 L672.5,329.2 L674.6,328.5 L676.8,327.8 L679.0,327.2 L681.3,326.6 L683.5,326.1 L685.6,325.7 L687.8,325.3 L690.0,324.9 L692.3,324.6 L694.6,324.3 L697.0,324.1 L699.6,323.9 L702.2,323.6 L705.1,323.4 L708.2,323.2 L711.8,323.0 L715.7,322.9 L719.7,322.7 L723.8,322.6 L727.7,322.5 L731.4,322.4 L734.6,322.3 L737.4,322.3 L739.5,322.2 L739.5,321.0 L737.4,321.0 L734.6,321.0 L731.3,321.1 L727.7,321.1 L723.7,321.1 L719.7,321.2 L715.6,321.2 L711.7,321.3 L708.1,321.4 L704.9,321.6 L702.1,321.8 L699.4,321.9 L696.8,322.1 L694.4,322.3 L692.0,322.6 L689.7,322.8 L687.5,323.1 L685.2,323.5 L683.0,323.9 L680.7,324.4 L678.5,324.9 L676.2,325.5 L673.9,326.2 L671.7,326.9 L669.5,327.6 L667.4,328.4 L665.3,329.2 L663.2,330.0 L661.3,330.9 L659.4,331.8 L657.5,332.8 L655.6,333.9 L653.8,335.1 L652.0,336.3 L650.3,337.6 L648.7,338.8 L647.3,339.9 L646.0,340.9 L645.0,341.7 L644.1,342.3Z" fill="#8cbc45"/>
<path d="M645.0,345.0 L648.7,345.0 L653.5,345.0 L659.3,345.0 L665.7,345.0 L672.6,345.0 L679.7,345.0 L686.8,345.0 L693.5,345.0 L699.6,345.0 L705.0,345.0 L709.8,345.0 L714.5,345.0 L719.1,345.0 L723.4,345.0 L727.5,345.0 L731.3,345.0 L734.7,345.0 L737.8,345.0 L740.4,345.0 L742.5,345.0 L742.5,343.8 L740.4,343.8 L737.8,343.7 L734.7,343.7 L731.3,343.6 L727.5,343.5 L723.4,343.5 L719.1,343.4 L714.5,343.3 L709.8,343.2 L705.0,343.2 L699.7,343.1 L693.5,342.9 L686.8,342.8 L679.8,342.7 L672.7,342.5 L665.8,342.4 L659.3,342.3 L653.5,342.2 L648.7,342.1 L645.0,342.0Z" fill="#8cbc45"/>
<path d="M644.1,344.7 L645.0,345.3 L646.0,346.1 L647.3,347.1 L648.8,348.2 L650.3,349.3 L652.0,350.6 L653.8,351.8 L655.6,353.0 L657.5,354.1 L659.3,355.2 L661.2,356.2 L663.1,357.1 L665.0,358.1 L667.0,359.0 L669.0,360.0 L671.2,360.9 L673.4,361.7 L675.7,362.6 L678.2,363.4 L680.7,364.1 L683.3,364.8 L686.1,365.5 L688.9,366.1 L691.9,366.7 L694.9,367.2 L698.0,367.7 L701.1,368.2 L704.3,368.6 L707.6,369.0 L710.9,369.3 L714.5,369.6 L718.3,369.8 L722.5,369.9 L726.7,370.0 L730.9,370.1 L734.9,370.1 L738.6,370.1 L742.0,370.1 L744.8,370.2 L747.0,370.2 L747.0,369.0 L744.8,368.9 L742.0,368.9 L738.7,368.8 L734.9,368.7 L730.9,368.6 L726.7,368.5 L722.5,368.3 L718.4,368.1 L714.6,367.8 L711.1,367.5 L707.8,367.1 L704.6,366.7 L701.4,366.2 L698.3,365.7 L695.2,365.2 L692.3,364.6 L689.4,364.0 L686.6,363.3 L683.9,362.6 L681.3,361.9 L678.9,361.1 L676.5,360.3 L674.3,359.5 L672.1,358.6 L670.1,357.7 L668.1,356.7 L666.2,355.8 L664.3,354.8 L662.4,353.8 L660.7,352.8 L658.9,351.8 L657.1,350.7 L655.4,349.5 L653.7,348.3 L652.0,347.0 L650.5,345.9 L649.1,344.8 L647.8,343.8 L646.8,342.9 L645.9,342.3Z" fill="#8cbc45"/>
<path d="M531.2,341.2 L532.1,342.0 L533.1,343.1 L534.4,344.4 L535.8,345.9 L537.4,347.5 L539.1,349.1 L540.8,350.8 L542.5,352.4 L544.3,353.9 L546.0,355.3 L547.7,356.5 L549.4,357.8 L551.2,359.0 L553.0,360.1 L554.9,361.3 L556.7,362.4 L558.6,363.5 L560.5,364.5 L562.5,365.4 L564.4,366.3 L566.3,367.1 L568.2,367.8 L570.1,368.5 L572.0,369.1 L573.9,369.7 L575.8,370.3 L577.9,370.8 L580.1,371.3 L582.3,371.7 L584.8,372.2 L587.4,372.6 L590.2,373.0 L593.1,373.4 L596.2,373.8 L599.3,374.1 L602.5,374.5 L605.7,374.7 L608.8,375.0 L611.9,375.2 L614.9,375.4 L618.0,375.6 L621.3,375.7 L624.7,375.8 L628.0,375.9 L631.4,375.9 L634.5,375.9 L637.5,375.9 L640.1,375.9 L642.3,375.9 L644.0,375.9 L644.0,374.7 L642.3,374.6 L640.1,374.5 L637.5,374.5 L634.5,374.4 L631.4,374.3 L628.1,374.3 L624.7,374.1 L621.4,374.0 L618.1,373.8 L615.1,373.6 L612.1,373.3 L609.0,373.0 L605.9,372.7 L602.7,372.4 L599.6,372.0 L596.5,371.6 L593.4,371.2 L590.5,370.8 L587.8,370.3 L585.2,369.8 L582.8,369.3 L580.6,368.8 L578.5,368.3 L576.5,367.8 L574.6,367.2 L572.8,366.6 L571.0,366.0 L569.2,365.3 L567.4,364.5 L565.6,363.7 L563.7,362.8 L561.9,361.9 L560.1,360.9 L558.2,359.8 L556.4,358.7 L554.7,357.6 L553.0,356.4 L551.3,355.2 L549.6,354.0 L548.0,352.7 L546.4,351.4 L544.8,349.9 L543.1,348.3 L541.4,346.7 L539.9,345.1 L538.3,343.5 L536.9,342.0 L535.7,340.6 L534.6,339.5 L533.8,338.6Z" fill="#8cbc45"/>
<path d="M531.2,341.4 L531.5,341.9 L531.9,342.5 L532.3,343.3 L532.8,344.1 L533.3,345.1 L533.8,346.0 L534.4,347.0 L534.9,348.0 L535.5,349.0 L536.0,349.9 L536.5,350.7 L537.0,351.6 L537.4,352.4 L537.9,353.2 L538.4,354.1 L538.9,354.9 L539.4,355.8 L540.0,356.7 L540.5,357.5 L541.1,358.4 L541.6,359.3 L542.2,360.2 L542.8,361.1 L543.4,362.0 L544.0,362.9 L544.6,363.8 L545.3,364.8 L545.9,365.7 L546.5,366.6 L547.2,367.5 L547.8,368.3 L548.4,369.2 L549.1,370.0 L549.7,370.9 L550.3,371.7 L551.0,372.6 L551.7,373.4 L552.3,374.3 L553.1,375.1 L553.8,376.0 L554.5,376.9 L555.3,377.8 L556.0,378.7 L556.8,379.6 L557.6,380.5 L558.5,381.4 L559.3,382.4 L560.2,383.3 L561.0,384.2 L561.9,385.1 L562.8,386.0 L563.8,386.9 L564.7,387.7 L565.7,388.6 L566.7,389.5 L567.6,390.4 L568.6,391.2 L569.6,392.0 L570.6,392.8 L571.6,393.6 L572.5,394.4 L573.5,395.2 L574.4,395.9 L575.4,396.6 L576.3,397.3 L577.3,398.0 L578.3,398.7 L579.2,399.4 L580.2,400.0 L581.3,400.7 L582.2,401.3 L583.2,401.9 L584.2,402.4 L585.1,403.0 L586.1,403.5 L587.1,404.1 L588.2,404.6 L589.4,405.1 L590.6,405.7 L592.0,406.2 L593.5,406.8 L595.0,407.4 L596.7,408.0 L598.4,408.7 L600.2,409.3 L602.1,409.9 L604.0,410.5 L605.9,411.1 L607.8,411.7 L609.7,412.2 L611.5,412.7 L613.2,413.2 L615.0,413.6 L616.7,414.0 L618.5,414.4 L620.4,414.8 L622.4,415.2 L624.6,415.7 L627.1,416.1 L629.8,416.6 L632.7,417.2 L635.9,417.7 L639.1,418.3 L642.6,418.9 L646.2,419.5 L650.1,420.1 L654.1,420.7 L658.3,421.3 L662.7,421.9 L667.4,422.4 L672.6,423.0 L678.6,423.5 L685.0,424.0 L691.8,424.6 L698.5,425.1 L705.1,425.5 L711.3,426.0 L716.8,426.4 L721.4,426.7 L724.9,426.9 L725.1,425.7 L721.5,425.4 L716.9,425.0 L711.4,424.5 L705.2,424.0 L698.7,423.5 L691.9,422.9 L685.2,422.3 L678.7,421.7 L672.8,421.1 L667.6,420.6 L663.0,420.0 L658.6,419.4 L654.4,418.7 L650.4,418.1 L646.6,417.4 L643.0,416.8 L639.5,416.2 L636.3,415.5 L633.2,414.9 L630.2,414.4 L627.5,413.9 L625.1,413.4 L622.9,412.9 L620.9,412.5 L619.0,412.1 L617.3,411.7 L615.6,411.2 L613.9,410.8 L612.1,410.3 L610.3,409.8 L608.5,409.3 L606.6,408.7 L604.7,408.1 L602.9,407.5 L601.1,406.8 L599.3,406.2 L597.6,405.6 L596.0,405.0 L594.4,404.3 L593.0,403.8 L591.7,403.2 L590.5,402.7 L589.4,402.1 L588.4,401.6 L587.4,401.1 L586.5,400.6 L585.6,400.1 L584.6,399.5 L583.7,398.9 L582.7,398.3 L581.8,397.7 L580.8,397.0 L579.9,396.4 L579.0,395.7 L578.0,395.0 L577.1,394.3 L576.2,393.6 L575.3,392.9 L574.4,392.1 L573.4,391.4 L572.5,390.6 L571.5,389.8 L570.6,389.0 L569.6,388.1 L568.7,387.3 L567.7,386.4 L566.8,385.5 L565.8,384.7 L565.0,383.8 L564.1,382.9 L563.2,382.1 L562.4,381.2 L561.6,380.3 L560.8,379.4 L560.0,378.5 L559.2,377.6 L558.4,376.7 L557.7,375.8 L556.9,374.9 L556.2,374.0 L555.5,373.1 L554.8,372.3 L554.2,371.4 L553.5,370.6 L552.9,369.8 L552.3,368.9 L551.7,368.1 L551.1,367.3 L550.5,366.4 L549.8,365.5 L549.2,364.7 L548.6,363.8 L548.0,362.9 L547.4,362.0 L546.8,361.1 L546.2,360.2 L545.6,359.3 L545.0,358.4 L544.5,357.5 L543.9,356.6 L543.4,355.7 L542.9,354.9 L542.4,354.0 L541.9,353.2 L541.4,352.4 L540.9,351.5 L540.5,350.7 L540.0,349.8 L539.5,349.0 L539.0,348.1 L538.5,347.3 L538.0,346.3 L537.5,345.3 L536.9,344.3 L536.4,343.4 L535.9,342.4 L535.4,341.6 L535.0,340.8 L534.7,340.1 L534.4,339.6Z" fill="#8cbc45"/>
<path d="M492.4,492.2 L492.8,491.7 L493.3,491.0 L493.9,490.2 L494.6,489.4 L495.3,488.4 L496.0,487.5 L496.8,486.5 L497.5,485.6 L498.3,484.8 L499.0,484.0 L499.7,483.3 L500.4,482.6 L501.2,481.9 L501.9,481.3 L502.7,480.6 L503.4,480.0 L504.2,479.4 L505.0,478.8 L505.9,478.2 L506.7,477.6 L507.6,477.1 L508.5,476.5 L509.4,476.0 L510.3,475.5 L511.2,475.0 L512.2,474.5 L513.2,474.0 L514.2,473.6 L515.3,473.1 L516.4,472.7 L517.6,472.2 L518.8,471.8 L520.1,471.3 L521.4,470.9 L522.7,470.5 L524.1,470.1 L525.5,469.7 L527.0,469.3 L528.6,469.0 L530.2,468.6 L532.0,468.2 L533.8,467.9 L535.7,467.5 L537.7,467.1 L539.8,466.8 L541.9,466.5 L543.9,466.2 L546.0,465.9 L548.1,465.6 L550.1,465.4 L552.1,465.1 L554.0,465.0 L555.9,464.8 L557.9,464.6 L559.8,464.5 L561.8,464.4 L563.7,464.3 L565.8,464.2 L567.9,464.1 L570.0,464.0 L572.4,463.9 L575.0,463.8 L577.7,463.7 L580.5,463.6 L583.3,463.5 L585.9,463.4 L588.5,463.4 L590.7,463.3 L592.6,463.2 L594.0,463.2 L594.0,462.0 L592.5,462.0 L590.7,462.0 L588.4,462.1 L585.9,462.1 L583.2,462.1 L580.4,462.2 L577.6,462.2 L574.9,462.3 L572.3,462.3 L570.0,462.4 L567.8,462.5 L565.7,462.5 L563.7,462.6 L561.7,462.7 L559.7,462.8 L557.8,462.9 L555.8,463.0 L553.9,463.1 L551.9,463.3 L549.9,463.4 L547.9,463.7 L545.8,463.9 L543.7,464.2 L541.6,464.4 L539.5,464.7 L537.4,465.1 L535.4,465.4 L533.4,465.7 L531.5,466.1 L529.8,466.4 L528.1,466.8 L526.5,467.1 L524.9,467.5 L523.5,467.9 L522.0,468.2 L520.7,468.6 L519.3,469.1 L518.1,469.5 L516.8,469.9 L515.6,470.3 L514.4,470.8 L513.2,471.3 L512.1,471.7 L511.1,472.2 L510.0,472.7 L509.1,473.2 L508.1,473.7 L507.1,474.3 L506.2,474.8 L505.3,475.4 L504.4,476.0 L503.5,476.6 L502.6,477.2 L501.8,477.8 L500.9,478.5 L500.1,479.2 L499.3,479.8 L498.5,480.5 L497.8,481.3 L497.0,482.0 L496.2,482.8 L495.4,483.7 L494.6,484.7 L493.8,485.7 L493.0,486.6 L492.2,487.6 L491.6,488.4 L491.0,489.2 L490.5,489.8 L490.1,490.3Z" fill="#c47c38"/>
<path d="M491.1,492.7 L492.7,492.9 L494.8,493.2 L497.3,493.5 L500.1,493.8 L503.1,494.1 L506.3,494.5 L509.7,494.9 L513.1,495.2 L516.5,495.5 L519.9,495.8 L523.2,496.0 L526.7,496.2 L530.1,496.4 L533.7,496.6 L537.4,496.8 L541.1,496.9 L545.0,497.1 L549.0,497.2 L553.2,497.4 L557.5,497.5 L562.2,497.6 L567.5,497.7 L573.1,497.8 L579.0,497.8 L584.8,497.9 L590.5,498.0 L595.8,498.0 L600.5,498.0 L604.5,498.1 L607.5,498.1 L607.5,496.9 L604.5,496.8 L600.5,496.7 L595.8,496.6 L590.5,496.5 L584.9,496.4 L579.0,496.2 L573.2,496.0 L567.5,495.9 L562.2,495.7 L557.5,495.5 L553.2,495.3 L549.1,495.1 L545.1,494.9 L541.2,494.7 L537.5,494.5 L533.8,494.3 L530.3,494.0 L526.8,493.8 L523.4,493.5 L520.1,493.2 L516.8,492.9 L513.4,492.6 L510.0,492.2 L506.7,491.8 L503.5,491.4 L500.4,491.0 L497.7,490.6 L495.2,490.3 L493.1,490.0 L491.4,489.8Z" fill="#c47c38"/>
<path d="M490.3,492.4 L490.8,492.8 L491.5,493.4 L492.2,494.0 L493.1,494.7 L494.1,495.5 L495.1,496.3 L496.1,497.1 L497.1,498.0 L498.1,498.8 L499.1,499.6 L500.0,500.3 L500.8,501.1 L501.6,501.9 L502.5,502.7 L503.4,503.5 L504.3,504.3 L505.3,505.2 L506.5,506.1 L507.8,507.1 L509.2,508.1 L510.8,509.2 L512.4,510.3 L514.2,511.5 L516.1,512.8 L518.1,514.1 L520.1,515.3 L522.3,516.6 L524.6,517.8 L527.0,519.0 L529.5,520.1 L532.2,521.2 L535.0,522.2 L537.9,523.2 L540.9,524.1 L544.1,525.1 L547.2,526.0 L550.4,526.8 L553.6,527.6 L556.7,528.3 L559.8,529.0 L562.8,529.6 L565.7,530.1 L568.5,530.6 L571.4,531.0 L574.3,531.4 L577.2,531.7 L580.2,532.0 L583.3,532.3 L586.5,532.6 L589.9,532.8 L593.7,533.1 L598.0,533.3 L602.5,533.5 L607.2,533.6 L611.9,533.8 L616.4,533.9 L620.6,534.0 L624.4,534.1 L627.6,534.1 L630.0,534.2 L630.0,533.0 L627.6,532.9 L624.4,532.8 L620.6,532.7 L616.4,532.5 L611.9,532.3 L607.2,532.2 L602.6,531.9 L598.0,531.7 L593.8,531.4 L590.1,531.2 L586.7,530.9 L583.4,530.6 L580.4,530.2 L577.4,529.9 L574.5,529.5 L571.7,529.1 L568.8,528.7 L566.0,528.2 L563.2,527.6 L560.2,527.0 L557.2,526.3 L554.1,525.5 L551.0,524.7 L547.8,523.8 L544.7,522.9 L541.6,522.0 L538.6,521.0 L535.8,520.0 L533.0,518.9 L530.5,517.9 L528.1,516.8 L525.8,515.6 L523.6,514.4 L521.5,513.2 L519.4,511.9 L517.5,510.6 L515.7,509.4 L514.0,508.1 L512.3,507.0 L510.8,505.9 L509.4,504.9 L508.2,504.0 L507.1,503.1 L506.1,502.2 L505.2,501.4 L504.4,500.6 L503.6,499.8 L502.7,499.0 L501.9,498.2 L500.9,497.4 L500.0,496.6 L499.0,495.7 L497.9,494.9 L496.9,494.0 L495.9,493.2 L495.0,492.4 L494.1,491.7 L493.4,491.1 L492.7,490.5 L492.2,490.1Z" fill="#c47c38"/>
<path d="M489.9,491.8 L490.1,492.3 L490.3,492.9 L490.6,493.5 L490.9,494.3 L491.3,495.1 L491.6,496.0 L492.0,496.9 L492.4,497.8 L492.8,498.7 L493.2,499.6 L493.5,500.4 L493.9,501.2 L494.3,502.1 L494.7,502.9 L495.1,503.8 L495.5,504.7 L495.9,505.6 L496.3,506.6 L496.8,507.5 L497.2,508.6 L497.7,509.6 L498.2,510.8 L498.7,511.9 L499.3,513.1 L499.8,514.4 L500.4,515.6 L501.0,516.9 L501.6,518.1 L502.2,519.4 L502.8,520.6 L503.5,521.8 L504.1,523.0 L504.8,524.3 L505.5,525.5 L506.2,526.8 L506.9,528.0 L507.6,529.2 L508.4,530.4 L509.2,531.6 L510.0,532.7 L510.8,533.8 L511.7,534.9 L512.5,535.9 L513.4,537.0 L514.3,538.0 L515.2,539.0 L516.2,540.0 L517.2,540.9 L518.2,541.9 L519.2,542.9 L520.3,543.8 L521.4,544.7 L522.5,545.7 L523.6,546.6 L524.8,547.5 L526.0,548.4 L527.2,549.3 L528.6,550.2 L530.0,551.1 L531.5,551.9 L533.0,552.8 L534.5,553.6 L536.1,554.3 L537.8,555.1 L539.5,555.9 L541.3,556.6 L543.2,557.3 L545.2,558.0 L547.4,558.7 L549.7,559.4 L552.3,560.1 L555.0,560.7 L557.9,561.4 L561.0,562.0 L564.1,562.7 L567.3,563.3 L570.5,563.8 L573.7,564.3 L576.8,564.8 L579.9,565.3 L583.0,565.7 L586.4,566.0 L589.9,566.3 L593.4,566.6 L596.8,566.8 L600.1,567.0 L603.2,567.2 L605.9,567.3 L608.2,567.5 L610.0,567.6 L610.0,566.4 L608.3,566.3 L606.0,566.1 L603.2,565.9 L600.2,565.7 L596.9,565.4 L593.5,565.2 L590.0,564.9 L586.6,564.5 L583.2,564.2 L580.1,563.7 L577.1,563.3 L573.9,562.7 L570.8,562.2 L567.6,561.6 L564.4,561.0 L561.3,560.3 L558.3,559.6 L555.4,559.0 L552.7,558.3 L550.3,557.6 L548.0,556.9 L545.9,556.2 L543.9,555.5 L542.0,554.7 L540.3,554.0 L538.6,553.2 L537.0,552.5 L535.5,551.7 L534.0,550.9 L532.5,550.1 L531.1,549.2 L529.8,548.4 L528.5,547.5 L527.3,546.7 L526.1,545.8 L525.0,544.9 L523.9,544.0 L522.9,543.0 L521.8,542.1 L520.8,541.1 L519.8,540.2 L518.8,539.3 L517.9,538.3 L517.0,537.4 L516.1,536.4 L515.2,535.4 L514.4,534.4 L513.6,533.4 L512.8,532.3 L512.0,531.3 L511.2,530.2 L510.5,529.0 L509.8,527.9 L509.1,526.7 L508.4,525.5 L507.7,524.3 L507.1,523.1 L506.4,521.8 L505.8,520.6 L505.2,519.4 L504.6,518.2 L504.0,517.0 L503.4,515.7 L502.8,514.5 L502.3,513.3 L501.8,512.0 L501.2,510.8 L500.7,509.7 L500.2,508.5 L499.8,507.4 L499.3,506.4 L498.9,505.4 L498.5,504.5 L498.1,503.5 L497.7,502.7 L497.3,501.8 L496.9,500.9 L496.5,500.1 L496.2,499.3 L495.8,498.4 L495.5,497.6 L495.1,496.7 L494.7,495.8 L494.3,494.9 L494.0,494.0 L493.7,493.2 L493.3,492.4 L493.1,491.7 L492.8,491.1 L492.6,490.7Z" fill="#c47c38"/>
<text class="l" x="135" y="165.5" font-size="13.4" fill="#111">Дата</text>
<text class="l" x="125" y="228.6" font-size="12.2" fill="#111">Время</text>
<path id="kgp" d="M219.0,213.6 C220.8,214.2 226.3,215.7 230.0,217.2 C233.7,218.7 237.5,220.6 241.0,222.6 C244.5,224.6 247.8,226.9 251.0,229.4 C254.2,231.9 258.5,236.2 260.0,237.5" fill="none"/>
<text class="l" font-size="16" fill="#111"><textPath href="#kgp" startOffset="0">Когда</textPath></text>
<text class="l" x="179" y="364" font-size="17" fill="#111" transform="rotate(-3 179 364)">Кто</text>
<path id="mstp" d="M269.2,446.7 C270.4,445.5 274.3,442.3 276.7,439.7 C279.1,437.1 281.5,434.1 283.7,431.2 C285.9,428.3 287.9,425.2 289.7,422.2 C291.5,419.2 293.2,416.2 294.7,413.2 C296.2,410.2 298.0,405.7 298.7,404.2" fill="none"/>
<text class="l" font-size="15" fill="#111"><textPath href="#mstp" startOffset="2.5">Место</textPath></text>
<text class="l" x="179.2" y="434.6" font-size="12.7" fill="#111">Здание</text>
<text class="l" x="146" y="516.6" font-size="12.4" fill="#111" transform="rotate(-5.8 146 516.6)">Кабинет</text>
<text class="l" x="487.7" y="194.5" font-size="16.8" fill="#111" transform="rotate(-19.5 487.7 194.5)">Цели</text>
<text class="l" x="438.2" y="330.3" font-size="16.2" fill="#111" transform="rotate(1.3 438.2 330.3)">Программа</text>
<text class="l" x="586.5" y="274.5" font-size="13" fill="#111" transform="rotate(-7.8 586.5 274.5)">Приветствие</text>
<text class="l" x="572.8" y="309.2" font-size="12.8" fill="#111" transform="rotate(-4.5 572.8 309.2)">Предыдущая</text>
<text class="l" x="705" y="294.9" font-size="10.3" fill="#111">Минуты</text>
<text class="l" x="590.6" y="337.6" font-size="13" fill="#111">Пункты</text>
<text class="l" x="579" y="366.3" font-size="12.7" fill="#111" transform="rotate(4.3 579 366.3)">Действия</text>
<text class="l" x="582" y="392" font-size="12.7" fill="#111" transform="rotate(13 582 392)">Любые другие вопросы</text>
<text class="l" x="563.5" y="457.2" font-size="11.8" fill="#111">Еда</text>
<text class="l" x="548.7" y="492.6" font-size="13.1" fill="#111">Напитки</text>
<text class="l" x="537" y="518.75" font-size="12.4" fill="#111" transform="rotate(5.5 537 518.75)">Оборудование</text>
<text class="l" x="539" y="547.5" font-size="12" fill="#111" transform="rotate(12 539 547.5)">Материалы</text>
<path id="obp" d="M409.6,408.5 C410.0,409.2 410.8,410.3 412.1,412.5 C413.4,414.7 415.9,418.6 417.6,421.5 C419.4,424.4 420.9,427.2 422.6,430.0 C424.4,432.8 426.2,435.4 428.1,438.0 C430.0,440.6 432.0,443.1 434.1,445.5 C436.2,447.9 438.4,450.2 440.6,452.5 C442.9,454.8 445.2,456.9 447.6,459.0 C450.0,461.1 452.6,463.2 455.1,465.0 C457.6,466.8 460.0,468.0 462.6,469.7 C465.2,471.4 467.9,473.4 470.6,475.0 C473.3,476.6 475.8,477.8 478.6,479.2 C481.4,480.6 486.1,482.6 487.6,483.3" fill="none"/>
<text class="l" font-size="16.4" fill="#111"><textPath href="#obp" startOffset="4.7">Обеспечение</textPath></text>
<g>
<path d="M279.3,315.5 L320,315.5 L305,357 L283.5,356.5 Z" fill="#dfe9f0" stroke="#c3d3de" stroke-width="0.6"/>
<path d="M284,316 L388.4,310.4 L392,346 L368,358.5 L312,371.5 L284,335 Z" fill="#eef3f7" stroke="#cfdbe4" stroke-width="0.6"/>
<path d="M286,336 L305,363 L297,365 Z" fill="#6a9fc2"/>
<path d="M367,320 L388.4,310.4 L392,346 L377.5,350 Z" fill="#e3ebf1"/>
<path d="M286.5,325.5 L353,314.5 L353.5,318 L287.2,329.5 Z" fill="#c3d7e4"/>
<path d="M287.2,329.5 L353.5,318 L354,321 L288.3,333.5 Z" fill="#9ab9cf"/>
</g>
<text x="315.9" y="334" font-size="16.4" fill="#1c1c1c">План</text>
<text x="305.6" y="353.6" font-size="16.6" fill="#1c1c1c">встречи</text>
<g stroke-width="2.4" stroke-linecap="round">
<line x1="380.2" y1="347.3" x2="376.6" y2="361" stroke="#ecd48c"/><line x1="381.8" y1="341.3" x2="380.2" y2="347.3" stroke="#5a1525"/>
<line x1="383.6" y1="347.8" x2="380.0" y2="361" stroke="#ecd48c"/><line x1="385.2" y1="341.8" x2="383.6" y2="347.8" stroke="#1e4a5a"/>
<line x1="386.9" y1="348.8" x2="383.3" y2="361" stroke="#ecd48c"/><line x1="388.5" y1="342.8" x2="386.9" y2="348.8" stroke="#2d5a2a"/>
<line x1="390.2" y1="350.0" x2="386.6" y2="361" stroke="#ecd48c"/><line x1="391.8" y1="344" x2="390.2" y2="350.0" stroke="#4a4a18"/>
</g>
<g>
<path d="M264.6,243 L271,244.5" stroke="#9a9a9a" stroke-width="1.4" stroke-linecap="round"/>
<path d="M269,246 L283,257 L281,262 L279.5,256 L271,250 Z" fill="#c4c4c4" stroke="#9c9c9c" stroke-width="0.6"/>
<path d="M287.5,219.5 C290,216.5 295,215.5 298,218.5 L297.5,221 C294,219.5 291,219.8 288.5,221.5 Z" fill="#222"/>
<path d="M297,216 C301,213.5 307,214.5 309.5,220 C311,224 310.5,229 307.5,235 L304,232 C305,227 304,223 300,220 Z" fill="#f4f4f4" stroke="#8a8a8a" stroke-width="0.7"/>
<path d="M304.3,226.5 L307,235.5 L305.5,235.5 L303.3,227.5 Z" fill="#222"/>
<circle cx="287.4" cy="237.2" r="17.5" fill="#b4b4b4"/>
<circle cx="287.4" cy="237.2" r="16.4" fill="#dcdcdc" stroke="#a0a0a0" stroke-width="0.8"/>
<circle cx="287.4" cy="237.2" r="14.2" fill="#fcfcfc" stroke="#bbb" stroke-width="0.6"/>
<g stroke="#666" stroke-width="0.8">
<line x1="287.4" y1="224.3" x2="287.4" y2="225.8"/><line x1="287.4" y1="248.4" x2="287.4" y2="249.9"/>
<line x1="274.6" y1="237.1" x2="276.1" y2="237.1"/><line x1="298.7" y1="237.1" x2="300.2" y2="237.1"/>
<line x1="281" y1="226" x2="281.7" y2="227.3"/><line x1="293.8" y1="226" x2="293.1" y2="227.3"/>
<line x1="276.3" y1="230.7" x2="277.6" y2="231.4"/><line x1="298.5" y1="230.7" x2="297.2" y2="231.4"/>
<line x1="276.3" y1="243.5" x2="277.6" y2="242.8"/><line x1="298.5" y1="243.5" x2="297.2" y2="242.8"/>
<line x1="281" y1="248.2" x2="281.7" y2="246.9"/><line x1="293.8" y1="248.2" x2="293.1" y2="246.9"/>
</g>
<line x1="286.8" y1="236.2" x2="281.5" y2="231.7" stroke="#333" stroke-width="1.1"/>
<line x1="286.8" y1="236.2" x2="297.5" y2="225.2" stroke="#555" stroke-width="0.7"/>
<line x1="286.8" y1="236.2" x2="289.7" y2="249" stroke="#b05050" stroke-width="0.5"/>
<circle cx="286.8" cy="236.2" r="1.3" fill="#111"/>
</g>
<g>
<polygon points="370.8,220.7 397.2,248 347.2,295.2 320.7,268.7" fill="#fff" stroke="#111" stroke-width="1.6" stroke-linejoin="miter"/>
<line x1="372.7" y1="273.5" x2="385.2" y2="286.2" stroke="#111" stroke-width="1.1"/>
<line x1="371.2" y1="300.5" x2="399.7" y2="273.5" stroke="#111" stroke-width="2.4" stroke-linecap="round"/>
<line x1="376.5" y1="243.8" x2="394.5" y2="248.7" stroke="#bbb" stroke-width="0.8"/>
<path d="M353.2,283 L354.7,266 L358.5,270.5 L360,258.5 L363.7,260 L363.8,234.5" fill="none" stroke="#d42027" stroke-width="1.9" stroke-linejoin="miter"/>
<path d="M357.7,251.5 L363.7,233.7 L370.5,246.5" fill="none" stroke="#d42027" stroke-width="2" stroke-linejoin="miter" stroke-linecap="round"/>
</g>
<g>
<path d="M411.5,241 L433,226 L441.5,219.5 L442,228.5 L431,239.5 L418,247 Z" fill="#7c4c2c" stroke="#2a1a10" stroke-width="0.6"/>
<path d="M404.5,212.5 C410,206 420,202 427,202.8 C432.5,204.5 436.5,211.5 437.5,219 C436.5,226.5 428,234.5 418,240 C412.5,241 406.5,238.5 404.8,234 Z" fill="#f4c9a6" stroke="#b88766" stroke-width="0.6"/>
<path d="M419,231.5 L426.5,232 L424.5,238.5 L421,238 Z" fill="#e02424"/>
<path d="M422.5,218.5 C424.5,221 426,224 425.5,227 C428,225 429.5,221.5 429,218 Z" fill="#fff" stroke="#7a3a2a" stroke-width="0.5"/>
<ellipse cx="401.3" cy="227.5" rx="8.7" ry="7.6" transform="rotate(-20 401.3 227.5)" fill="#f6caa8" stroke="#c08a68" stroke-width="0.6"/>
<circle cx="411.6" cy="214.2" r="2.9" fill="#fff" stroke="#333" stroke-width="0.6"/>
<circle cx="416.8" cy="211.2" r="2.9" fill="#fff" stroke="#333" stroke-width="0.6"/>
<circle cx="412" cy="214.6" r="0.8" fill="#111"/><circle cx="417.2" cy="211.6" r="0.8" fill="#111"/>
<path d="M419.5,206.5 C420.5,203 423,202.5 425,204 L423.5,209.5 Z" fill="#111"/>
<path d="M409.5,210 L412.5,208.5" stroke="#111" stroke-width="0.9"/>
<path d="M413.2,242.7 L405,248 L399,250.8" fill="none" stroke="#222" stroke-width="1"/>
<ellipse cx="401" cy="250.5" rx="3" ry="2" fill="#f0c8a8" stroke="#a07050" stroke-width="0.4"/>
<line x1="431.6" y1="238.3" x2="436" y2="241.6" stroke="#111" stroke-width="1"/>
<path d="M429.5,245 L444,236 L446,237.5 L432,247 Z" fill="#111"/>
</g>
<g>
<path d="M210.5,331.5 C205.5,322 207.5,311 219.5,305 C229,300.5 241.5,302 245,311.5 C248,320 244.5,328 240.2,333.5 L241,340.5 L231,342 L229.8,333 C229.5,328 234,325 235,320.5 C236,316.5 231,315.5 227.5,316.5 C224,317.5 222.5,321 223,326.5 Z" fill="#e8161a"/>
<path d="M213,327 C211,320 214,312 221,308.5" fill="none" stroke="#ff6a5a" stroke-width="1.6" stroke-linecap="round" opacity="0.7"/>
<path d="M231,342 L240.2,340.5 L241,343 L231.6,344.5 Z" fill="#f7d0d0"/>
<path d="M232,344 L243.7,339 L249.5,349.3 L237,354.5 Z" fill="#e8161a"/>
<ellipse cx="251" cy="315.5" rx="4.8" ry="6.6" fill="#e4b090"/>
<path d="M246.5,312 C247,308 250,306.5 253,307 C255,308 256,310 255.5,312 C253,310 249,310 246.5,312 Z" fill="#222"/>
<path d="M247.5,322 L257,321 L266,327 L267.5,330 L263,331 L267.7,339.5 L262,341.5 L258,335 L254.5,345.5 L250,344 L248.5,332 L242,331 L241.5,328 L248,325 Z" fill="#1a1a1a"/>
<circle cx="266.3" cy="328.8" r="1.3" fill="#c8c8c8"/>
</g>
<g>
<path d="M188.7,477.5 L195,476.5 L209,496.7 L210.6,499.5 L202.4,499.5 Z" fill="#c9c9c9"/>
<path d="M194.2,462.8 L211.6,477.5 L211.6,497.6 L209,496 L195,477.5 Z" fill="#a89168" stroke="#7a6a4a" stroke-width="0.4"/>
<path d="M210.6,477.5 L233.5,473.8 L233.5,490.3 L230.8,494.9 L211.6,497.6 Z" fill="#cdb88a" stroke="#8a7a5a" stroke-width="0.4"/>
<path d="M193.7,460 L209.3,458.7 L218.9,467 L232.6,466 L234.9,469.7 L233.5,473.8 L211.6,477.5 L194.2,462.8 Z" fill="#e2d4b0" stroke="#9a8a6a" stroke-width="0.4"/>
<path d="M199.7,462 L208.5,461.3 L211,465 L202,465.8 Z" fill="#fff" stroke="#aaa" stroke-width="0.3"/>
<rect x="209" y="468.5" width="3" height="5.5" fill="#6a5030"/>
<ellipse cx="227" cy="459.6" rx="5" ry="6.2" transform="rotate(25 227 459.6)" fill="#4a5055"/>
<line x1="229" y1="459.2" x2="240" y2="459.6" stroke="#555" stroke-width="0.9"/>
<path d="M233.5,465.6 L236.3,472 L238,466" fill="none" stroke="#777" stroke-width="0.7"/>
</g>
<g>
<ellipse cx="521.8" cy="313.2" rx="19.9" ry="7.8" fill="#97a3a9" stroke="#3a4245" stroke-width="1.1"/>
<path d="M510.5,283 L513.5,283 L515.5,311.5 L512.3,311.5 Z" fill="#454d51"/>
<path d="M521.5,300 L524.8,300 L526.2,315 L523,315 Z" fill="#454d51"/>
<path d="M501.5,254.5 L536.5,246.5 L551.5,291 L516.5,299.5 Z" fill="#4b5357"/>
<path d="M515,296.8 L555.5,290.5 L556,293.8 L517.2,301.8 Z" fill="#394144"/>
<path d="M508.5,259 L538,250 L548.5,288 L522,297.5 Z" fill="#fafafa" stroke="#777" stroke-width="0.6"/>
<path d="M507,258 L536,248.5 L542,251 L545,267 L554,277.5 L523,294.5 C517,288 513,279 511.5,270 Z" fill="#fff" stroke="#707070" stroke-width="0.6"/>
<path d="M536,248.5 L542,251 L545.5,266 L551,274" fill="none" stroke="#808080" stroke-width="0.6"/>
<path d="M512.5,245 L524.5,242.5 L525.5,250.5 L513.5,253 Z" fill="#3e4649"/>
<rect x="515.5" y="241.8" width="5" height="2.5" fill="#3e4649"/>
</g>
<g>
<path d="M482.4,409.2 L494.4,409.2 Q496.9,409.2 496.9,411.7 L496.9,467.3 L488.4,485.5 L479.9,467.3 L479.9,411.7 Q479.9,409.2 482.4,409.2 Z" fill="#111"/>
<rect x="482.7" y="411.6" width="11.4" height="8" fill="#e01a1a"/>
<rect x="490" y="411.6" width="3.5" height="8" fill="#f05050"/>
<rect x="483.3" y="423.4" width="2.4" height="42.6" fill="#f3e96c"/>
<rect x="487.3" y="423.4" width="2.4" height="42.6" fill="#f3e96c"/>
<rect x="491.3" y="423.4" width="2.4" height="42.6" fill="#f3e96c"/>
<path d="M484.2,468.7 L492.6,468.7 L491.2,472.5 L485.6,472.5 Z" fill="#f3ddb0"/>
<path d="M486.3,474 L490.5,474 L488.4,480 Z" fill="#4a5a80"/>
</g>
<circle cx="592.9" cy="138.9" r="8.8" fill="url(#num)" stroke="#2a8ccc" stroke-width="0.6"/>
<text x="592.9" y="143.20000000000002" text-anchor="middle" font-size="12" font-weight="bold" fill="#fff">1</text>
<circle cx="592.9" cy="163.2" r="8.8" fill="url(#num)" stroke="#2a8ccc" stroke-width="0.6"/>
<text x="592.9" y="167.5" text-anchor="middle" font-size="12" font-weight="bold" fill="#fff">2</text>
<circle cx="592.9" cy="185.3" r="8.8" fill="url(#num)" stroke="#2a8ccc" stroke-width="0.6"/>
<text x="592.9" y="189.60000000000002" text-anchor="middle" font-size="12" font-weight="bold" fill="#fff">3</text>
</svg>
</body></html>
